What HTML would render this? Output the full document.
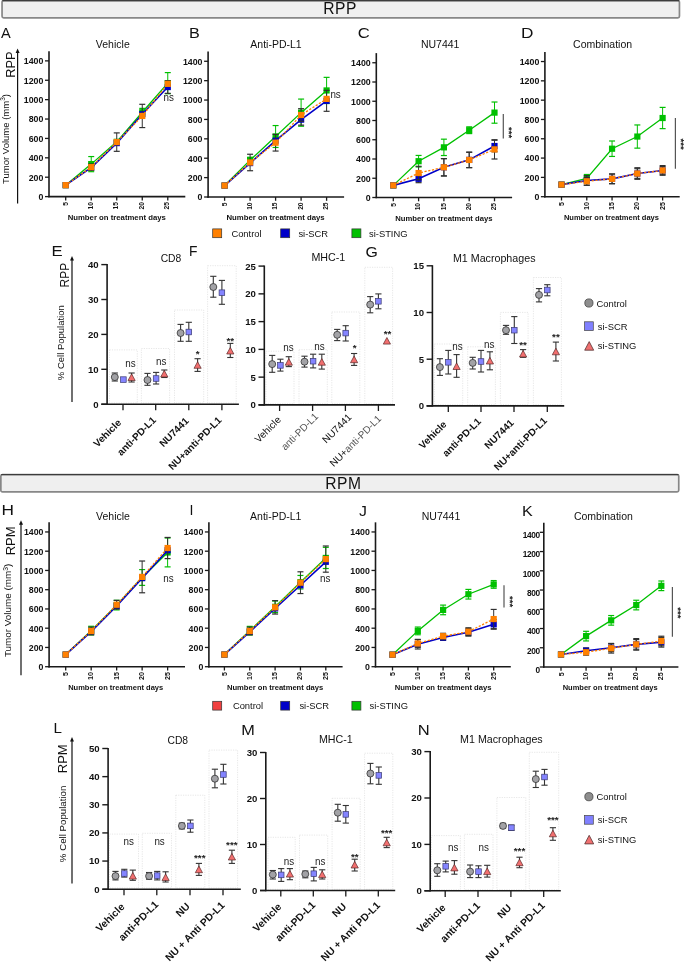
<!DOCTYPE html><html><head><meta charset="utf-8"><title>Figure</title><style>html,body{margin:0;padding:0;background:#fff;}svg{display:block;will-change:transform;}text{font-family:"Liberation Sans",sans-serif;}</style></head><body>
<svg width="685" height="963" viewBox="0 0 685 963">
<rect width="685" height="963" fill="#fff"/>
<rect x="2.05" y="0.6" width="677.4" height="17.25" rx="1.6" fill="#efefef" stroke="#878787" stroke-width="1.7"/>
<line x1="2.4" y1="0.6" x2="679.1" y2="0.6" stroke="#3c3c3c" stroke-width="1.25"/>
<text x="323.2" y="14.4" font-size="15.6" text-anchor="start" fill="#111" letter-spacing="0.55">RPP</text>
<rect x="0.85" y="474.5" width="677.9" height="17.45" rx="1.6" fill="#efefef" stroke="#878787" stroke-width="1.7"/>
<line x1="1.2" y1="474.5" x2="678.4" y2="474.5" stroke="#3c3c3c" stroke-width="1.25"/>
<text x="325.2" y="488.6" font-size="15.6" text-anchor="start" fill="#111" letter-spacing="0.55">RPM</text>
<text x="1" y="37.7" font-size="14.6" text-anchor="start" fill="#111">A</text>
<text x="0" y="0" font-size="14.2" fill="#111" transform="translate(188.9 37.9) scale(1.14 1)">B</text>
<text x="0" y="0" font-size="14.6" fill="#111" transform="translate(357.8 38.4) scale(1.14 1)">C</text>
<text x="0" y="0" font-size="14.6" fill="#111" transform="translate(521 38.4) scale(1.18 1)">D</text>
<line x1="17.6" y1="51.4" x2="17.6" y2="203.4" stroke="#111" stroke-width="1.2"/>
<polygon points="15.6,52.9 17.6,48.4 19.6,52.9" fill="#111"/>
<text x="15.1" y="64.65" font-size="12.8" text-anchor="middle" fill="#111" transform="rotate(-90 15.1 64.65)">RPP</text>
<text x="8.9" y="139" font-size="9.5" text-anchor="middle" fill="#111" transform="rotate(-90 8.9 139)">Tumor Volume (mm<tspan font-size="6.46" dy="-3.4">3</tspan><tspan dy="3.4">)</tspan></text>
<line x1="49" y1="51.17" x2="49" y2="197.3" stroke="#1a1a1a" stroke-width="1.6"/>
<line x1="45" y1="196.6" x2="49" y2="196.6" stroke="#1a1a1a" stroke-width="1.3"/>
<text x="43.4" y="200" font-size="8.8" font-weight="bold" text-anchor="end" fill="#111">0</text>
<line x1="45" y1="177.21" x2="49" y2="177.21" stroke="#1a1a1a" stroke-width="1.3"/>
<text x="43.4" y="180.61" font-size="8.8" font-weight="bold" text-anchor="end" fill="#111">200</text>
<line x1="45" y1="157.82" x2="49" y2="157.82" stroke="#1a1a1a" stroke-width="1.3"/>
<text x="43.4" y="161.22" font-size="8.8" font-weight="bold" text-anchor="end" fill="#111">400</text>
<line x1="45" y1="138.43" x2="49" y2="138.43" stroke="#1a1a1a" stroke-width="1.3"/>
<text x="43.4" y="141.83" font-size="8.8" font-weight="bold" text-anchor="end" fill="#111">600</text>
<line x1="45" y1="119.04" x2="49" y2="119.04" stroke="#1a1a1a" stroke-width="1.3"/>
<text x="43.4" y="122.44" font-size="8.8" font-weight="bold" text-anchor="end" fill="#111">800</text>
<line x1="45" y1="99.65" x2="49" y2="99.65" stroke="#1a1a1a" stroke-width="1.3"/>
<text x="43.4" y="103.05" font-size="8.8" font-weight="bold" text-anchor="end" fill="#111">1000</text>
<line x1="45" y1="80.26" x2="49" y2="80.26" stroke="#1a1a1a" stroke-width="1.3"/>
<text x="43.4" y="83.66" font-size="8.8" font-weight="bold" text-anchor="end" fill="#111">1200</text>
<line x1="45" y1="60.87" x2="49" y2="60.87" stroke="#1a1a1a" stroke-width="1.3"/>
<text x="43.4" y="64.27" font-size="8.8" font-weight="bold" text-anchor="end" fill="#111">1400</text>
<line x1="48.3" y1="196.6" x2="185.3" y2="196.6" stroke="#1a1a1a" stroke-width="1.6"/>
<line x1="65.7" y1="196.6" x2="65.7" y2="200.4" stroke="#1a1a1a" stroke-width="1.3"/>
<text x="68.11" y="202" font-size="6.7" font-weight="bold" text-anchor="end" fill="#111" transform="rotate(-90 68.11 202)">5</text>
<line x1="91.22" y1="196.6" x2="91.22" y2="200.4" stroke="#1a1a1a" stroke-width="1.3"/>
<text x="92.93" y="202" font-size="6.7" font-weight="bold" text-anchor="end" fill="#111" transform="rotate(-90 92.93 202)">10</text>
<line x1="116.74" y1="196.6" x2="116.74" y2="200.4" stroke="#1a1a1a" stroke-width="1.3"/>
<text x="118.45" y="202" font-size="6.7" font-weight="bold" text-anchor="end" fill="#111" transform="rotate(-90 118.45 202)">15</text>
<line x1="142.26" y1="196.6" x2="142.26" y2="200.4" stroke="#1a1a1a" stroke-width="1.3"/>
<text x="143.97" y="202" font-size="6.7" font-weight="bold" text-anchor="end" fill="#111" transform="rotate(-90 143.97 202)">20</text>
<line x1="167.78" y1="196.6" x2="167.78" y2="200.4" stroke="#1a1a1a" stroke-width="1.3"/>
<text x="169.49" y="202" font-size="6.7" font-weight="bold" text-anchor="end" fill="#111" transform="rotate(-90 169.49 202)">25</text>
<text x="116.74" y="219.9" font-size="7.75" font-weight="bold" text-anchor="middle" fill="#111">Number on treatment days</text>
<text x="112.8" y="48" font-size="10.5" text-anchor="middle" fill="#111">Vehicle</text>
<line x1="91.22" y1="156.56" x2="91.22" y2="171.68" stroke="#00c000" stroke-width="1"/>
<line x1="88.22" y1="156.56" x2="94.22" y2="156.56" stroke="#00c000" stroke-width="1.2"/>
<line x1="88.22" y1="171.68" x2="94.22" y2="171.68" stroke="#00c000" stroke-width="1.2"/>
<line x1="142.26" y1="108.38" x2="142.26" y2="116.13" stroke="#00c000" stroke-width="1"/>
<line x1="139.26" y1="108.38" x2="145.26" y2="108.38" stroke="#00c000" stroke-width="1.2"/>
<line x1="139.26" y1="116.13" x2="145.26" y2="116.13" stroke="#00c000" stroke-width="1.2"/>
<line x1="167.78" y1="72.6" x2="167.78" y2="93.74" stroke="#00c000" stroke-width="1"/>
<line x1="164.78" y1="72.6" x2="170.78" y2="72.6" stroke="#00c000" stroke-width="1.2"/>
<line x1="164.78" y1="93.74" x2="170.78" y2="93.74" stroke="#00c000" stroke-width="1.2"/>
<polyline points="65.7,185.16 91.22,164.12 116.74,141.82 142.26,112.25 167.78,83.17" fill="none" stroke="#00c000" stroke-width="1.3"/>
<rect x="62.6" y="182.06" width="6.2" height="6.2" fill="#00c000"/>
<rect x="88.12" y="161.02" width="6.2" height="6.2" fill="#00c000"/>
<rect x="113.64" y="138.72" width="6.2" height="6.2" fill="#00c000"/>
<rect x="139.16" y="109.15" width="6.2" height="6.2" fill="#00c000"/>
<rect x="164.68" y="80.07" width="6.2" height="6.2" fill="#00c000"/>
<line x1="167.78" y1="80.74" x2="167.78" y2="93.35" stroke="#303030" stroke-width="1"/>
<line x1="164.78" y1="80.74" x2="170.78" y2="80.74" stroke="#303030" stroke-width="1.2"/>
<line x1="164.78" y1="93.35" x2="170.78" y2="93.35" stroke="#303030" stroke-width="1.2"/>
<polyline points="65.7,185.16 91.22,167.51 116.74,143.08 142.26,114.19 167.78,87.05" fill="none" stroke="#0000c8" stroke-width="1.6"/>
<rect x="62.6" y="182.06" width="6.2" height="6.2" fill="#0000c8"/>
<rect x="88.12" y="164.41" width="6.2" height="6.2" fill="#0000c8"/>
<rect x="113.64" y="139.98" width="6.2" height="6.2" fill="#0000c8"/>
<rect x="139.16" y="111.09" width="6.2" height="6.2" fill="#0000c8"/>
<rect x="164.68" y="83.95" width="6.2" height="6.2" fill="#0000c8"/>
<line x1="91.22" y1="164.02" x2="91.22" y2="170.23" stroke="#303030" stroke-width="1"/>
<line x1="88.22" y1="164.02" x2="94.22" y2="164.02" stroke="#303030" stroke-width="1.2"/>
<line x1="88.22" y1="170.23" x2="94.22" y2="170.23" stroke="#303030" stroke-width="1.2"/>
<line x1="116.74" y1="132.9" x2="116.74" y2="151.32" stroke="#303030" stroke-width="1"/>
<line x1="113.74" y1="132.9" x2="119.74" y2="132.9" stroke="#303030" stroke-width="1.2"/>
<line x1="113.74" y1="151.32" x2="119.74" y2="151.32" stroke="#303030" stroke-width="1.2"/>
<line x1="142.26" y1="104.3" x2="142.26" y2="127.57" stroke="#303030" stroke-width="1"/>
<line x1="139.26" y1="104.3" x2="145.26" y2="104.3" stroke="#303030" stroke-width="1.2"/>
<line x1="139.26" y1="127.57" x2="145.26" y2="127.57" stroke="#303030" stroke-width="1.2"/>
<polyline points="65.7,185.16 91.22,167.13 116.74,142.11 142.26,115.94 167.78,83.85" fill="none" stroke="#ff8000" stroke-width="1.3" stroke-dasharray="2.2,1.6"/>
<rect x="62.6" y="182.06" width="6.2" height="6.2" fill="#ff8000"/>
<rect x="88.12" y="164.03" width="6.2" height="6.2" fill="#ff8000"/>
<rect x="113.64" y="139.01" width="6.2" height="6.2" fill="#ff8000"/>
<rect x="139.16" y="112.84" width="6.2" height="6.2" fill="#ff8000"/>
<rect x="164.68" y="80.75" width="6.2" height="6.2" fill="#ff8000"/>
<text x="163.6" y="101.4" font-size="11.6" text-anchor="start" fill="#222" textLength="10.4" lengthAdjust="spacingAndGlyphs">ns</text>
<line x1="208.1" y1="51.57" x2="208.1" y2="197.7" stroke="#1a1a1a" stroke-width="1.6"/>
<line x1="204.1" y1="197" x2="208.1" y2="197" stroke="#1a1a1a" stroke-width="1.3"/>
<text x="202.5" y="200.4" font-size="8.8" font-weight="bold" text-anchor="end" fill="#111">0</text>
<line x1="204.1" y1="177.61" x2="208.1" y2="177.61" stroke="#1a1a1a" stroke-width="1.3"/>
<text x="202.5" y="181.01" font-size="8.8" font-weight="bold" text-anchor="end" fill="#111">200</text>
<line x1="204.1" y1="158.22" x2="208.1" y2="158.22" stroke="#1a1a1a" stroke-width="1.3"/>
<text x="202.5" y="161.62" font-size="8.8" font-weight="bold" text-anchor="end" fill="#111">400</text>
<line x1="204.1" y1="138.83" x2="208.1" y2="138.83" stroke="#1a1a1a" stroke-width="1.3"/>
<text x="202.5" y="142.23" font-size="8.8" font-weight="bold" text-anchor="end" fill="#111">600</text>
<line x1="204.1" y1="119.44" x2="208.1" y2="119.44" stroke="#1a1a1a" stroke-width="1.3"/>
<text x="202.5" y="122.84" font-size="8.8" font-weight="bold" text-anchor="end" fill="#111">800</text>
<line x1="204.1" y1="100.05" x2="208.1" y2="100.05" stroke="#1a1a1a" stroke-width="1.3"/>
<text x="202.5" y="103.45" font-size="8.8" font-weight="bold" text-anchor="end" fill="#111">1000</text>
<line x1="204.1" y1="80.66" x2="208.1" y2="80.66" stroke="#1a1a1a" stroke-width="1.3"/>
<text x="202.5" y="84.06" font-size="8.8" font-weight="bold" text-anchor="end" fill="#111">1200</text>
<line x1="204.1" y1="61.27" x2="208.1" y2="61.27" stroke="#1a1a1a" stroke-width="1.3"/>
<text x="202.5" y="64.67" font-size="8.8" font-weight="bold" text-anchor="end" fill="#111">1400</text>
<line x1="207.4" y1="197" x2="344.1" y2="197" stroke="#1a1a1a" stroke-width="1.6"/>
<line x1="224.6" y1="197" x2="224.6" y2="200.8" stroke="#1a1a1a" stroke-width="1.3"/>
<text x="227.01" y="202.4" font-size="6.7" font-weight="bold" text-anchor="end" fill="#111" transform="rotate(-90 227.01 202.4)">5</text>
<line x1="250.1" y1="197" x2="250.1" y2="200.8" stroke="#1a1a1a" stroke-width="1.3"/>
<text x="251.81" y="202.4" font-size="6.7" font-weight="bold" text-anchor="end" fill="#111" transform="rotate(-90 251.81 202.4)">10</text>
<line x1="275.6" y1="197" x2="275.6" y2="200.8" stroke="#1a1a1a" stroke-width="1.3"/>
<text x="277.31" y="202.4" font-size="6.7" font-weight="bold" text-anchor="end" fill="#111" transform="rotate(-90 277.31 202.4)">15</text>
<line x1="301.1" y1="197" x2="301.1" y2="200.8" stroke="#1a1a1a" stroke-width="1.3"/>
<text x="302.81" y="202.4" font-size="6.7" font-weight="bold" text-anchor="end" fill="#111" transform="rotate(-90 302.81 202.4)">20</text>
<line x1="326.6" y1="197" x2="326.6" y2="200.8" stroke="#1a1a1a" stroke-width="1.3"/>
<text x="328.31" y="202.4" font-size="6.7" font-weight="bold" text-anchor="end" fill="#111" transform="rotate(-90 328.31 202.4)">25</text>
<text x="275.6" y="220.3" font-size="7.75" font-weight="bold" text-anchor="middle" fill="#111">Number on treatment days</text>
<text x="276" y="47.9" font-size="10.5" text-anchor="middle" fill="#111">Anti-PD-L1</text>
<line x1="250.1" y1="157.25" x2="250.1" y2="163.07" stroke="#00c000" stroke-width="1"/>
<line x1="247.1" y1="157.25" x2="253.1" y2="157.25" stroke="#00c000" stroke-width="1.2"/>
<line x1="247.1" y1="163.07" x2="253.1" y2="163.07" stroke="#00c000" stroke-width="1.2"/>
<line x1="275.6" y1="125.55" x2="275.6" y2="147.46" stroke="#00c000" stroke-width="1"/>
<line x1="272.6" y1="125.55" x2="278.6" y2="125.55" stroke="#00c000" stroke-width="1.2"/>
<line x1="272.6" y1="147.46" x2="278.6" y2="147.46" stroke="#00c000" stroke-width="1.2"/>
<line x1="301.1" y1="99.08" x2="301.1" y2="126.23" stroke="#00c000" stroke-width="1"/>
<line x1="298.1" y1="99.08" x2="304.1" y2="99.08" stroke="#00c000" stroke-width="1.2"/>
<line x1="298.1" y1="126.23" x2="304.1" y2="126.23" stroke="#00c000" stroke-width="1.2"/>
<line x1="326.6" y1="77.36" x2="326.6" y2="103.54" stroke="#00c000" stroke-width="1"/>
<line x1="323.6" y1="77.36" x2="329.6" y2="77.36" stroke="#00c000" stroke-width="1.2"/>
<line x1="323.6" y1="103.54" x2="329.6" y2="103.54" stroke="#00c000" stroke-width="1.2"/>
<polyline points="224.6,185.56 250.1,160.16 275.6,136.5 301.1,112.65 326.6,90.45" fill="none" stroke="#00c000" stroke-width="1.3"/>
<rect x="221.5" y="182.46" width="6.2" height="6.2" fill="#00c000"/>
<rect x="247" y="157.06" width="6.2" height="6.2" fill="#00c000"/>
<rect x="272.5" y="133.4" width="6.2" height="6.2" fill="#00c000"/>
<rect x="298" y="109.55" width="6.2" height="6.2" fill="#00c000"/>
<rect x="323.5" y="87.35" width="6.2" height="6.2" fill="#00c000"/>
<line x1="301.1" y1="114.11" x2="301.1" y2="125.16" stroke="#303030" stroke-width="1"/>
<line x1="298.1" y1="114.11" x2="304.1" y2="114.11" stroke="#303030" stroke-width="1.2"/>
<line x1="298.1" y1="125.16" x2="304.1" y2="125.16" stroke="#303030" stroke-width="1.2"/>
<line x1="326.6" y1="90.35" x2="326.6" y2="111.3" stroke="#303030" stroke-width="1"/>
<line x1="323.6" y1="90.35" x2="329.6" y2="90.35" stroke="#303030" stroke-width="1.2"/>
<line x1="323.6" y1="111.3" x2="329.6" y2="111.3" stroke="#303030" stroke-width="1.2"/>
<polyline points="224.6,185.56 250.1,163.07 275.6,140.67 301.1,119.63 326.6,100.83" fill="none" stroke="#0000c8" stroke-width="1.6"/>
<rect x="221.5" y="182.46" width="6.2" height="6.2" fill="#0000c8"/>
<rect x="247" y="159.97" width="6.2" height="6.2" fill="#0000c8"/>
<rect x="272.5" y="137.57" width="6.2" height="6.2" fill="#0000c8"/>
<rect x="298" y="116.53" width="6.2" height="6.2" fill="#0000c8"/>
<rect x="323.5" y="97.73" width="6.2" height="6.2" fill="#0000c8"/>
<line x1="250.1" y1="154.25" x2="250.1" y2="170.73" stroke="#303030" stroke-width="1"/>
<line x1="247.1" y1="154.25" x2="253.1" y2="154.25" stroke="#303030" stroke-width="1.2"/>
<line x1="247.1" y1="170.73" x2="253.1" y2="170.73" stroke="#303030" stroke-width="1.2"/>
<line x1="275.6" y1="134.37" x2="275.6" y2="151.05" stroke="#303030" stroke-width="1"/>
<line x1="272.6" y1="134.37" x2="278.6" y2="134.37" stroke="#303030" stroke-width="1.2"/>
<line x1="272.6" y1="151.05" x2="278.6" y2="151.05" stroke="#303030" stroke-width="1.2"/>
<line x1="301.1" y1="108.68" x2="301.1" y2="121.28" stroke="#303030" stroke-width="1"/>
<line x1="298.1" y1="108.68" x2="304.1" y2="108.68" stroke="#303030" stroke-width="1.2"/>
<line x1="298.1" y1="121.28" x2="304.1" y2="121.28" stroke="#303030" stroke-width="1.2"/>
<polyline points="224.6,185.56 250.1,162.49 275.6,142.71 301.1,114.98 326.6,98.89" fill="none" stroke="#ff8000" stroke-width="1.3" stroke-dasharray="2.2,1.6"/>
<rect x="221.5" y="182.46" width="6.2" height="6.2" fill="#ff8000"/>
<rect x="247" y="159.39" width="6.2" height="6.2" fill="#ff8000"/>
<rect x="272.5" y="139.61" width="6.2" height="6.2" fill="#ff8000"/>
<rect x="298" y="111.88" width="6.2" height="6.2" fill="#ff8000"/>
<rect x="323.5" y="95.79" width="6.2" height="6.2" fill="#ff8000"/>
<text x="330.4" y="98" font-size="11.6" text-anchor="start" fill="#222" textLength="10.4" lengthAdjust="spacingAndGlyphs">ns</text>
<line x1="376.3" y1="53.12" x2="376.3" y2="198.2" stroke="#1a1a1a" stroke-width="1.6"/>
<line x1="372.3" y1="197.5" x2="376.3" y2="197.5" stroke="#1a1a1a" stroke-width="1.3"/>
<text x="370.7" y="200.9" font-size="8.8" font-weight="bold" text-anchor="end" fill="#111">0</text>
<line x1="372.3" y1="178.25" x2="376.3" y2="178.25" stroke="#1a1a1a" stroke-width="1.3"/>
<text x="370.7" y="181.65" font-size="8.8" font-weight="bold" text-anchor="end" fill="#111">200</text>
<line x1="372.3" y1="159" x2="376.3" y2="159" stroke="#1a1a1a" stroke-width="1.3"/>
<text x="370.7" y="162.4" font-size="8.8" font-weight="bold" text-anchor="end" fill="#111">400</text>
<line x1="372.3" y1="139.75" x2="376.3" y2="139.75" stroke="#1a1a1a" stroke-width="1.3"/>
<text x="370.7" y="143.15" font-size="8.8" font-weight="bold" text-anchor="end" fill="#111">600</text>
<line x1="372.3" y1="120.5" x2="376.3" y2="120.5" stroke="#1a1a1a" stroke-width="1.3"/>
<text x="370.7" y="123.9" font-size="8.8" font-weight="bold" text-anchor="end" fill="#111">800</text>
<line x1="372.3" y1="101.25" x2="376.3" y2="101.25" stroke="#1a1a1a" stroke-width="1.3"/>
<text x="370.7" y="104.65" font-size="8.8" font-weight="bold" text-anchor="end" fill="#111">1000</text>
<line x1="372.3" y1="82" x2="376.3" y2="82" stroke="#1a1a1a" stroke-width="1.3"/>
<text x="370.7" y="85.4" font-size="8.8" font-weight="bold" text-anchor="end" fill="#111">1200</text>
<line x1="372.3" y1="62.75" x2="376.3" y2="62.75" stroke="#1a1a1a" stroke-width="1.3"/>
<text x="370.7" y="66.15" font-size="8.8" font-weight="bold" text-anchor="end" fill="#111">1400</text>
<line x1="375.6" y1="197.5" x2="512.1" y2="197.5" stroke="#1a1a1a" stroke-width="1.6"/>
<line x1="393.3" y1="197.5" x2="393.3" y2="201.3" stroke="#1a1a1a" stroke-width="1.3"/>
<text x="395.71" y="202.9" font-size="6.7" font-weight="bold" text-anchor="end" fill="#111" transform="rotate(-90 395.71 202.9)">5</text>
<line x1="418.6" y1="197.5" x2="418.6" y2="201.3" stroke="#1a1a1a" stroke-width="1.3"/>
<text x="420.31" y="202.9" font-size="6.7" font-weight="bold" text-anchor="end" fill="#111" transform="rotate(-90 420.31 202.9)">10</text>
<line x1="443.9" y1="197.5" x2="443.9" y2="201.3" stroke="#1a1a1a" stroke-width="1.3"/>
<text x="445.61" y="202.9" font-size="6.7" font-weight="bold" text-anchor="end" fill="#111" transform="rotate(-90 445.61 202.9)">15</text>
<line x1="469.2" y1="197.5" x2="469.2" y2="201.3" stroke="#1a1a1a" stroke-width="1.3"/>
<text x="470.91" y="202.9" font-size="6.7" font-weight="bold" text-anchor="end" fill="#111" transform="rotate(-90 470.91 202.9)">20</text>
<line x1="494.5" y1="197.5" x2="494.5" y2="201.3" stroke="#1a1a1a" stroke-width="1.3"/>
<text x="496.21" y="202.9" font-size="6.7" font-weight="bold" text-anchor="end" fill="#111" transform="rotate(-90 496.21 202.9)">25</text>
<text x="443.9" y="220.8" font-size="7.68" font-weight="bold" text-anchor="middle" fill="#111">Number on treatment days</text>
<text x="440.2" y="48" font-size="10.5" text-anchor="middle" fill="#111">NU7441</text>
<line x1="418.6" y1="155.44" x2="418.6" y2="166.99" stroke="#00c000" stroke-width="1"/>
<line x1="415.6" y1="155.44" x2="421.6" y2="155.44" stroke="#00c000" stroke-width="1.2"/>
<line x1="415.6" y1="166.99" x2="421.6" y2="166.99" stroke="#00c000" stroke-width="1.2"/>
<line x1="443.9" y1="139.17" x2="443.9" y2="155.53" stroke="#00c000" stroke-width="1"/>
<line x1="440.9" y1="139.17" x2="446.9" y2="139.17" stroke="#00c000" stroke-width="1.2"/>
<line x1="440.9" y1="155.53" x2="446.9" y2="155.53" stroke="#00c000" stroke-width="1.2"/>
<line x1="469.2" y1="126.85" x2="469.2" y2="133.59" stroke="#00c000" stroke-width="1"/>
<line x1="466.2" y1="126.85" x2="472.2" y2="126.85" stroke="#00c000" stroke-width="1.2"/>
<line x1="466.2" y1="133.59" x2="472.2" y2="133.59" stroke="#00c000" stroke-width="1.2"/>
<line x1="494.5" y1="102.02" x2="494.5" y2="123.2" stroke="#00c000" stroke-width="1"/>
<line x1="491.5" y1="102.02" x2="497.5" y2="102.02" stroke="#00c000" stroke-width="1.2"/>
<line x1="491.5" y1="123.2" x2="497.5" y2="123.2" stroke="#00c000" stroke-width="1.2"/>
<polyline points="393.3,185.37 418.6,161.21 443.9,147.35 469.2,130.22 494.5,112.61" fill="none" stroke="#00c000" stroke-width="1.3"/>
<rect x="390.2" y="182.27" width="6.2" height="6.2" fill="#00c000"/>
<rect x="415.5" y="158.11" width="6.2" height="6.2" fill="#00c000"/>
<rect x="440.8" y="144.25" width="6.2" height="6.2" fill="#00c000"/>
<rect x="466.1" y="127.12" width="6.2" height="6.2" fill="#00c000"/>
<rect x="491.4" y="109.51" width="6.2" height="6.2" fill="#00c000"/>
<line x1="418.6" y1="174.98" x2="418.6" y2="182.68" stroke="#303030" stroke-width="1"/>
<line x1="415.6" y1="174.98" x2="421.6" y2="174.98" stroke="#303030" stroke-width="1.2"/>
<line x1="415.6" y1="182.68" x2="421.6" y2="182.68" stroke="#303030" stroke-width="1.2"/>
<line x1="443.9" y1="158.62" x2="443.9" y2="175.94" stroke="#303030" stroke-width="1"/>
<line x1="440.9" y1="158.62" x2="446.9" y2="158.62" stroke="#303030" stroke-width="1.2"/>
<line x1="440.9" y1="175.94" x2="446.9" y2="175.94" stroke="#303030" stroke-width="1.2"/>
<line x1="469.2" y1="152.17" x2="469.2" y2="167.57" stroke="#303030" stroke-width="1"/>
<line x1="466.2" y1="152.17" x2="472.2" y2="152.17" stroke="#303030" stroke-width="1.2"/>
<line x1="466.2" y1="167.57" x2="472.2" y2="167.57" stroke="#303030" stroke-width="1.2"/>
<line x1="494.5" y1="140.23" x2="494.5" y2="151.78" stroke="#303030" stroke-width="1"/>
<line x1="491.5" y1="140.23" x2="497.5" y2="140.23" stroke="#303030" stroke-width="1.2"/>
<line x1="491.5" y1="151.78" x2="497.5" y2="151.78" stroke="#303030" stroke-width="1.2"/>
<polyline points="393.3,185.37 418.6,178.83 443.9,167.28 469.2,159.87 494.5,146.01" fill="none" stroke="#0000c8" stroke-width="1.6"/>
<rect x="390.2" y="182.27" width="6.2" height="6.2" fill="#0000c8"/>
<rect x="415.5" y="175.73" width="6.2" height="6.2" fill="#0000c8"/>
<rect x="440.8" y="164.18" width="6.2" height="6.2" fill="#0000c8"/>
<rect x="466.1" y="156.77" width="6.2" height="6.2" fill="#0000c8"/>
<rect x="491.4" y="142.91" width="6.2" height="6.2" fill="#0000c8"/>
<line x1="418.6" y1="166.31" x2="418.6" y2="179.79" stroke="#303030" stroke-width="1"/>
<line x1="415.6" y1="166.31" x2="421.6" y2="166.31" stroke="#303030" stroke-width="1.2"/>
<line x1="415.6" y1="179.79" x2="421.6" y2="179.79" stroke="#303030" stroke-width="1.2"/>
<line x1="443.9" y1="158.62" x2="443.9" y2="175.94" stroke="#303030" stroke-width="1"/>
<line x1="440.9" y1="158.62" x2="446.9" y2="158.62" stroke="#303030" stroke-width="1.2"/>
<line x1="440.9" y1="175.94" x2="446.9" y2="175.94" stroke="#303030" stroke-width="1.2"/>
<line x1="469.2" y1="152.26" x2="469.2" y2="167.66" stroke="#303030" stroke-width="1"/>
<line x1="466.2" y1="152.26" x2="472.2" y2="152.26" stroke="#303030" stroke-width="1.2"/>
<line x1="466.2" y1="167.66" x2="472.2" y2="167.66" stroke="#303030" stroke-width="1.2"/>
<line x1="494.5" y1="139.75" x2="494.5" y2="159" stroke="#303030" stroke-width="1"/>
<line x1="491.5" y1="139.75" x2="497.5" y2="139.75" stroke="#303030" stroke-width="1.2"/>
<line x1="491.5" y1="159" x2="497.5" y2="159" stroke="#303030" stroke-width="1.2"/>
<polyline points="393.3,185.37 418.6,173.05 443.9,167.28 469.2,159.96 494.5,149.38" fill="none" stroke="#ff8000" stroke-width="1.3" stroke-dasharray="2.2,1.6"/>
<rect x="390.2" y="182.27" width="6.2" height="6.2" fill="#ff8000"/>
<rect x="415.5" y="169.95" width="6.2" height="6.2" fill="#ff8000"/>
<rect x="440.8" y="164.18" width="6.2" height="6.2" fill="#ff8000"/>
<rect x="466.1" y="156.86" width="6.2" height="6.2" fill="#ff8000"/>
<rect x="491.4" y="146.28" width="6.2" height="6.2" fill="#ff8000"/>
<line x1="503.3" y1="113.9" x2="503.3" y2="138.6" stroke="#555" stroke-width="1.2"/>
<text x="505.7" y="132.7" font-size="9.6" font-weight="bold" text-anchor="middle" fill="#222" transform="rotate(90 505.7 132.7)">***</text>
<line x1="544.9" y1="51.88" x2="544.9" y2="197.4" stroke="#1a1a1a" stroke-width="1.6"/>
<line x1="540.9" y1="196.7" x2="544.9" y2="196.7" stroke="#1a1a1a" stroke-width="1.3"/>
<text x="539.3" y="200.1" font-size="8.8" font-weight="bold" text-anchor="end" fill="#111">0</text>
<line x1="540.9" y1="177.39" x2="544.9" y2="177.39" stroke="#1a1a1a" stroke-width="1.3"/>
<text x="539.3" y="180.79" font-size="8.8" font-weight="bold" text-anchor="end" fill="#111">200</text>
<line x1="540.9" y1="158.08" x2="544.9" y2="158.08" stroke="#1a1a1a" stroke-width="1.3"/>
<text x="539.3" y="161.48" font-size="8.8" font-weight="bold" text-anchor="end" fill="#111">400</text>
<line x1="540.9" y1="138.77" x2="544.9" y2="138.77" stroke="#1a1a1a" stroke-width="1.3"/>
<text x="539.3" y="142.17" font-size="8.8" font-weight="bold" text-anchor="end" fill="#111">600</text>
<line x1="540.9" y1="119.46" x2="544.9" y2="119.46" stroke="#1a1a1a" stroke-width="1.3"/>
<text x="539.3" y="122.86" font-size="8.8" font-weight="bold" text-anchor="end" fill="#111">800</text>
<line x1="540.9" y1="100.15" x2="544.9" y2="100.15" stroke="#1a1a1a" stroke-width="1.3"/>
<text x="539.3" y="103.55" font-size="8.8" font-weight="bold" text-anchor="end" fill="#111">1000</text>
<line x1="540.9" y1="80.84" x2="544.9" y2="80.84" stroke="#1a1a1a" stroke-width="1.3"/>
<text x="539.3" y="84.24" font-size="8.8" font-weight="bold" text-anchor="end" fill="#111">1200</text>
<line x1="540.9" y1="61.53" x2="544.9" y2="61.53" stroke="#1a1a1a" stroke-width="1.3"/>
<text x="539.3" y="64.93" font-size="8.8" font-weight="bold" text-anchor="end" fill="#111">1400</text>
<line x1="544.2" y1="196.7" x2="679.7" y2="196.7" stroke="#1a1a1a" stroke-width="1.6"/>
<line x1="561.5" y1="196.7" x2="561.5" y2="200.5" stroke="#1a1a1a" stroke-width="1.3"/>
<text x="564.09" y="202.1" font-size="7.2" font-weight="bold" text-anchor="end" fill="#111" transform="rotate(-90 564.09 202.1)">5</text>
<line x1="586.78" y1="196.7" x2="586.78" y2="200.5" stroke="#1a1a1a" stroke-width="1.3"/>
<text x="588.67" y="202.1" font-size="7.2" font-weight="bold" text-anchor="end" fill="#111" transform="rotate(-90 588.67 202.1)">10</text>
<line x1="612.06" y1="196.7" x2="612.06" y2="200.5" stroke="#1a1a1a" stroke-width="1.3"/>
<text x="613.95" y="202.1" font-size="7.2" font-weight="bold" text-anchor="end" fill="#111" transform="rotate(-90 613.95 202.1)">15</text>
<line x1="637.34" y1="196.7" x2="637.34" y2="200.5" stroke="#1a1a1a" stroke-width="1.3"/>
<text x="639.23" y="202.1" font-size="7.2" font-weight="bold" text-anchor="end" fill="#111" transform="rotate(-90 639.23 202.1)">20</text>
<line x1="662.62" y1="196.7" x2="662.62" y2="200.5" stroke="#1a1a1a" stroke-width="1.3"/>
<text x="664.51" y="202.1" font-size="7.2" font-weight="bold" text-anchor="end" fill="#111" transform="rotate(-90 664.51 202.1)">25</text>
<text x="611.46" y="220" font-size="7.5" font-weight="bold" text-anchor="middle" fill="#111">Number on treatment days</text>
<text x="602.6" y="48" font-size="10.5" text-anchor="middle" fill="#111">Combination</text>
<line x1="586.78" y1="174.49" x2="586.78" y2="182.22" stroke="#00c000" stroke-width="1"/>
<line x1="583.78" y1="174.49" x2="589.78" y2="174.49" stroke="#00c000" stroke-width="1.2"/>
<line x1="583.78" y1="182.22" x2="589.78" y2="182.22" stroke="#00c000" stroke-width="1.2"/>
<line x1="612.06" y1="140.99" x2="612.06" y2="156.44" stroke="#00c000" stroke-width="1"/>
<line x1="609.06" y1="140.99" x2="615.06" y2="140.99" stroke="#00c000" stroke-width="1.2"/>
<line x1="609.06" y1="156.44" x2="615.06" y2="156.44" stroke="#00c000" stroke-width="1.2"/>
<line x1="637.34" y1="124.96" x2="637.34" y2="148.14" stroke="#00c000" stroke-width="1"/>
<line x1="634.34" y1="124.96" x2="640.34" y2="124.96" stroke="#00c000" stroke-width="1.2"/>
<line x1="634.34" y1="148.14" x2="640.34" y2="148.14" stroke="#00c000" stroke-width="1.2"/>
<line x1="662.62" y1="107.39" x2="662.62" y2="128.63" stroke="#00c000" stroke-width="1"/>
<line x1="659.62" y1="107.39" x2="665.62" y2="107.39" stroke="#00c000" stroke-width="1.2"/>
<line x1="659.62" y1="128.63" x2="665.62" y2="128.63" stroke="#00c000" stroke-width="1.2"/>
<polyline points="561.5,184.63 586.78,178.36 612.06,148.71 637.34,136.55 662.62,118.01" fill="none" stroke="#00c000" stroke-width="1.3"/>
<rect x="558.4" y="181.53" width="6.2" height="6.2" fill="#00c000"/>
<rect x="583.68" y="175.26" width="6.2" height="6.2" fill="#00c000"/>
<rect x="608.96" y="145.61" width="6.2" height="6.2" fill="#00c000"/>
<rect x="634.24" y="133.45" width="6.2" height="6.2" fill="#00c000"/>
<rect x="659.52" y="114.91" width="6.2" height="6.2" fill="#00c000"/>
<line x1="586.78" y1="175.65" x2="586.78" y2="185.31" stroke="#303030" stroke-width="1"/>
<line x1="583.78" y1="175.65" x2="589.78" y2="175.65" stroke="#303030" stroke-width="1.2"/>
<line x1="583.78" y1="185.31" x2="589.78" y2="185.31" stroke="#303030" stroke-width="1.2"/>
<line x1="612.06" y1="174.01" x2="612.06" y2="183.67" stroke="#303030" stroke-width="1"/>
<line x1="609.06" y1="174.01" x2="615.06" y2="174.01" stroke="#303030" stroke-width="1.2"/>
<line x1="609.06" y1="183.67" x2="615.06" y2="183.67" stroke="#303030" stroke-width="1.2"/>
<line x1="637.34" y1="167.73" x2="637.34" y2="179.32" stroke="#303030" stroke-width="1"/>
<line x1="634.34" y1="167.73" x2="640.34" y2="167.73" stroke="#303030" stroke-width="1.2"/>
<line x1="634.34" y1="179.32" x2="640.34" y2="179.32" stroke="#303030" stroke-width="1.2"/>
<line x1="662.62" y1="165.61" x2="662.62" y2="175.27" stroke="#303030" stroke-width="1"/>
<line x1="659.62" y1="165.61" x2="665.62" y2="165.61" stroke="#303030" stroke-width="1.2"/>
<line x1="659.62" y1="175.27" x2="665.62" y2="175.27" stroke="#303030" stroke-width="1.2"/>
<polyline points="561.5,184.63 586.78,180.48 612.06,178.84 637.34,173.53 662.62,170.44" fill="none" stroke="#0000c8" stroke-width="1.6"/>
<rect x="558.4" y="181.53" width="6.2" height="6.2" fill="#0000c8"/>
<rect x="583.68" y="177.38" width="6.2" height="6.2" fill="#0000c8"/>
<rect x="608.96" y="175.74" width="6.2" height="6.2" fill="#0000c8"/>
<rect x="634.24" y="170.43" width="6.2" height="6.2" fill="#0000c8"/>
<rect x="659.52" y="167.34" width="6.2" height="6.2" fill="#0000c8"/>
<line x1="586.78" y1="177.39" x2="586.78" y2="185.11" stroke="#303030" stroke-width="1"/>
<line x1="583.78" y1="177.39" x2="589.78" y2="177.39" stroke="#303030" stroke-width="1.2"/>
<line x1="583.78" y1="185.11" x2="589.78" y2="185.11" stroke="#303030" stroke-width="1.2"/>
<line x1="612.06" y1="174.01" x2="612.06" y2="183.67" stroke="#303030" stroke-width="1"/>
<line x1="609.06" y1="174.01" x2="615.06" y2="174.01" stroke="#303030" stroke-width="1.2"/>
<line x1="609.06" y1="183.67" x2="615.06" y2="183.67" stroke="#303030" stroke-width="1.2"/>
<line x1="637.34" y1="168.7" x2="637.34" y2="178.36" stroke="#303030" stroke-width="1"/>
<line x1="634.34" y1="168.7" x2="640.34" y2="168.7" stroke="#303030" stroke-width="1.2"/>
<line x1="634.34" y1="178.36" x2="640.34" y2="178.36" stroke="#303030" stroke-width="1.2"/>
<line x1="662.62" y1="166.58" x2="662.62" y2="174.3" stroke="#303030" stroke-width="1"/>
<line x1="659.62" y1="166.58" x2="665.62" y2="166.58" stroke="#303030" stroke-width="1.2"/>
<line x1="659.62" y1="174.3" x2="665.62" y2="174.3" stroke="#303030" stroke-width="1.2"/>
<polyline points="561.5,184.63 586.78,181.25 612.06,178.84 637.34,173.53 662.62,170.44" fill="none" stroke="#ff8000" stroke-width="1.3" stroke-dasharray="2.2,1.6"/>
<rect x="558.4" y="181.53" width="6.2" height="6.2" fill="#ff8000"/>
<rect x="583.68" y="178.15" width="6.2" height="6.2" fill="#ff8000"/>
<rect x="608.96" y="175.74" width="6.2" height="6.2" fill="#ff8000"/>
<rect x="634.24" y="170.43" width="6.2" height="6.2" fill="#ff8000"/>
<rect x="659.52" y="167.34" width="6.2" height="6.2" fill="#ff8000"/>
<line x1="675.4" y1="118.1" x2="675.4" y2="168.8" stroke="#555" stroke-width="1.2"/>
<text x="677.7" y="144.1" font-size="9.6" font-weight="bold" text-anchor="middle" fill="#222" transform="rotate(90 677.7 144.1)">***</text>
<rect x="212.7" y="228.9" width="9" height="8.8" fill="#ff8000" stroke="#333" stroke-width="0.7"/>
<text x="231.4" y="237" font-size="9.4" text-anchor="start" fill="#111">Control</text>
<rect x="280.7" y="228.9" width="9" height="8.8" fill="#0000c8" stroke="#333" stroke-width="0.7"/>
<text x="298.4" y="237" font-size="9.4" text-anchor="start" fill="#111">si-SCR</text>
<rect x="351.9" y="228.9" width="9" height="8.8" fill="#00c000" stroke="#333" stroke-width="0.7"/>
<text x="369" y="237" font-size="9.4" text-anchor="start" fill="#111">si-STING</text>
<text x="0" y="0" font-size="15.2" fill="#111" transform="translate(51.6 256) scale(1.1 1)">E</text>
<text x="189" y="256.4" font-size="13.8" text-anchor="start" fill="#111">F</text>
<text x="0" y="0" font-size="14.4" fill="#111" transform="translate(365.4 256.9) scale(1.1 1)">G</text>
<line x1="72" y1="259" x2="72" y2="402" stroke="#111" stroke-width="1.2"/>
<polygon points="70,260.5 72,256 74,260.5" fill="#111"/>
<text x="69.2" y="275.1" font-size="12" text-anchor="middle" fill="#111" transform="rotate(-90 69.2 275.1)">RPP</text>
<text x="64.4" y="342.7" font-size="9.5" text-anchor="middle" fill="#111" transform="rotate(-90 64.4 342.7)">% Cell Population</text>
<rect x="109.5" y="349.9" width="27.8" height="53.1" fill="none" stroke="#dcdcdc" stroke-width="0.7" stroke-dasharray="1.2,1.2"/>
<rect x="141.4" y="348.5" width="28.2" height="54.5" fill="none" stroke="#dcdcdc" stroke-width="0.7" stroke-dasharray="1.2,1.2"/>
<rect x="174.5" y="310" width="29.2" height="93" fill="none" stroke="#dcdcdc" stroke-width="0.7" stroke-dasharray="1.2,1.2"/>
<rect x="207.6" y="265.7" width="28.6" height="137.3" fill="none" stroke="#dcdcdc" stroke-width="0.7" stroke-dasharray="1.2,1.2"/>
<line x1="107.1" y1="264" x2="107.1" y2="404.9" stroke="#1a1a1a" stroke-width="1.6"/>
<line x1="101.3" y1="404.2" x2="107.1" y2="404.2" stroke="#1a1a1a" stroke-width="1.4"/>
<text x="98.7" y="407.6" font-size="9.6" font-weight="bold" text-anchor="end" fill="#111">0</text>
<line x1="101.3" y1="369.3" x2="107.1" y2="369.3" stroke="#1a1a1a" stroke-width="1.4"/>
<text x="98.7" y="372.7" font-size="9.6" font-weight="bold" text-anchor="end" fill="#111">10</text>
<line x1="101.3" y1="334.4" x2="107.1" y2="334.4" stroke="#1a1a1a" stroke-width="1.4"/>
<text x="98.7" y="337.8" font-size="9.6" font-weight="bold" text-anchor="end" fill="#111">20</text>
<line x1="101.3" y1="299.5" x2="107.1" y2="299.5" stroke="#1a1a1a" stroke-width="1.4"/>
<text x="98.7" y="302.9" font-size="9.6" font-weight="bold" text-anchor="end" fill="#111">30</text>
<line x1="101.3" y1="264.6" x2="107.1" y2="264.6" stroke="#1a1a1a" stroke-width="1.4"/>
<text x="98.7" y="268" font-size="9.6" font-weight="bold" text-anchor="end" fill="#111">40</text>
<line x1="101.3" y1="404.2" x2="238.9" y2="404.2" stroke="#1a1a1a" stroke-width="1.6"/>
<line x1="123" y1="404.2" x2="123" y2="410.3" stroke="#1a1a1a" stroke-width="1.3"/>
<line x1="155.7" y1="404.2" x2="155.7" y2="410.3" stroke="#1a1a1a" stroke-width="1.3"/>
<line x1="188.8" y1="404.2" x2="188.8" y2="410.3" stroke="#1a1a1a" stroke-width="1.3"/>
<line x1="221.9" y1="404.2" x2="221.9" y2="410.3" stroke="#1a1a1a" stroke-width="1.3"/>
<text x="121.9" y="423.3" font-size="10" font-weight="bold" text-anchor="end" fill="#111" transform="rotate(-45 121.9 423.3)">Vehicle</text>
<text x="156.6" y="420.8" font-size="10" font-weight="bold" text-anchor="end" fill="#111" transform="rotate(-45 156.6 420.8)">anti-PD-L1</text>
<text x="189.4" y="421.6" font-size="10" font-weight="bold" text-anchor="end" fill="#111" transform="rotate(-45 189.4 421.6)">NU7441</text>
<text x="222.2" y="420.7" font-size="10" font-weight="bold" text-anchor="end" fill="#111" transform="rotate(-45 222.2 420.7)">NU+anti-PD-L1</text>
<text x="171" y="261.9" font-size="10.3" text-anchor="middle" fill="#111">CD8</text>
<line x1="114.8" y1="373" x2="114.8" y2="381" stroke="#333" stroke-width="1.1"/>
<line x1="111.7" y1="373" x2="117.9" y2="373" stroke="#333" stroke-width="1.1"/>
<line x1="111.7" y1="381" x2="117.9" y2="381" stroke="#333" stroke-width="1.1"/>
<line x1="131.6" y1="373" x2="131.6" y2="382" stroke="#333" stroke-width="1.1"/>
<line x1="128.5" y1="373" x2="134.7" y2="373" stroke="#333" stroke-width="1.1"/>
<line x1="128.5" y1="382" x2="134.7" y2="382" stroke="#333" stroke-width="1.1"/>
<circle cx="114.8" cy="377.1" r="3.5" fill="#a2a2a6" stroke="#333" stroke-width="0.8"/>
<rect x="120.6" y="376.8" width="5.6" height="5.6" fill="#8484ff" stroke="#3a3a70" stroke-width="0.7"/>
<polygon points="128,380.5 131.6,373.9 135.2,380.5" fill="#f26f6f" stroke="#5a2a2a" stroke-width="0.7"/>
<text x="125.2" y="367.3" font-size="11.4" text-anchor="start" fill="#222" textLength="10.4" lengthAdjust="spacingAndGlyphs">ns</text>
<line x1="147.5" y1="373.4" x2="147.5" y2="385.3" stroke="#333" stroke-width="1.1"/>
<line x1="144.4" y1="373.4" x2="150.6" y2="373.4" stroke="#333" stroke-width="1.1"/>
<line x1="144.4" y1="385.3" x2="150.6" y2="385.3" stroke="#333" stroke-width="1.1"/>
<line x1="156.1" y1="372.4" x2="156.1" y2="384" stroke="#333" stroke-width="1.1"/>
<line x1="153" y1="372.4" x2="159.2" y2="372.4" stroke="#333" stroke-width="1.1"/>
<line x1="153" y1="384" x2="159.2" y2="384" stroke="#333" stroke-width="1.1"/>
<line x1="164.3" y1="370" x2="164.3" y2="377.5" stroke="#333" stroke-width="1.1"/>
<line x1="161.2" y1="370" x2="167.4" y2="370" stroke="#333" stroke-width="1.1"/>
<line x1="161.2" y1="377.5" x2="167.4" y2="377.5" stroke="#333" stroke-width="1.1"/>
<circle cx="147.5" cy="380" r="3.5" fill="#a2a2a6" stroke="#333" stroke-width="0.8"/>
<rect x="153.3" y="375.7" width="5.6" height="5.6" fill="#8484ff" stroke="#3a3a70" stroke-width="0.7"/>
<polygon points="160.7,377 164.3,370.4 167.9,377" fill="#f26f6f" stroke="#5a2a2a" stroke-width="0.7"/>
<text x="156" y="365.2" font-size="11.4" text-anchor="start" fill="#222" textLength="10.4" lengthAdjust="spacingAndGlyphs">ns</text>
<line x1="180.6" y1="324.4" x2="180.6" y2="341.3" stroke="#333" stroke-width="1.1"/>
<line x1="177.5" y1="324.4" x2="183.7" y2="324.4" stroke="#333" stroke-width="1.1"/>
<line x1="177.5" y1="341.3" x2="183.7" y2="341.3" stroke="#333" stroke-width="1.1"/>
<line x1="188.8" y1="322.3" x2="188.8" y2="341.3" stroke="#333" stroke-width="1.1"/>
<line x1="185.7" y1="322.3" x2="191.9" y2="322.3" stroke="#333" stroke-width="1.1"/>
<line x1="185.7" y1="341.3" x2="191.9" y2="341.3" stroke="#333" stroke-width="1.1"/>
<line x1="197.6" y1="358.7" x2="197.6" y2="371.4" stroke="#333" stroke-width="1.1"/>
<line x1="194.5" y1="358.7" x2="200.7" y2="358.7" stroke="#333" stroke-width="1.1"/>
<line x1="194.5" y1="371.4" x2="200.7" y2="371.4" stroke="#333" stroke-width="1.1"/>
<circle cx="180.6" cy="333" r="3.5" fill="#a2a2a6" stroke="#333" stroke-width="0.8"/>
<rect x="186" y="329.2" width="5.6" height="5.6" fill="#8484ff" stroke="#3a3a70" stroke-width="0.7"/>
<polygon points="194,368.3 197.6,361.7 201.2,368.3" fill="#f26f6f" stroke="#5a2a2a" stroke-width="0.7"/>
<text x="197.6" y="357.3" font-size="9.8" font-weight="bold" text-anchor="middle" fill="#222">*</text>
<line x1="213.3" y1="276.3" x2="213.3" y2="297.2" stroke="#333" stroke-width="1.1"/>
<line x1="210.2" y1="276.3" x2="216.4" y2="276.3" stroke="#333" stroke-width="1.1"/>
<line x1="210.2" y1="297.2" x2="216.4" y2="297.2" stroke="#333" stroke-width="1.1"/>
<line x1="221.9" y1="280.4" x2="221.9" y2="304.3" stroke="#333" stroke-width="1.1"/>
<line x1="218.8" y1="280.4" x2="225" y2="280.4" stroke="#333" stroke-width="1.1"/>
<line x1="218.8" y1="304.3" x2="225" y2="304.3" stroke="#333" stroke-width="1.1"/>
<line x1="230.3" y1="343.4" x2="230.3" y2="357.5" stroke="#333" stroke-width="1.1"/>
<line x1="227.2" y1="343.4" x2="233.4" y2="343.4" stroke="#333" stroke-width="1.1"/>
<line x1="227.2" y1="357.5" x2="233.4" y2="357.5" stroke="#333" stroke-width="1.1"/>
<circle cx="213.3" cy="287" r="3.5" fill="#a2a2a6" stroke="#333" stroke-width="0.8"/>
<rect x="219.1" y="289.9" width="5.6" height="5.6" fill="#8484ff" stroke="#3a3a70" stroke-width="0.7"/>
<polygon points="226.7,354 230.3,347.4 233.9,354" fill="#f26f6f" stroke="#5a2a2a" stroke-width="0.7"/>
<text x="230.3" y="343.6" font-size="9.8" font-weight="bold" text-anchor="middle" fill="#222">**</text>
<rect x="266" y="351.2" width="28" height="52.5" fill="none" stroke="#dcdcdc" stroke-width="0.7" stroke-dasharray="1.2,1.2"/>
<rect x="299" y="349.7" width="28.3" height="54" fill="none" stroke="#dcdcdc" stroke-width="0.7" stroke-dasharray="1.2,1.2"/>
<rect x="331.8" y="312" width="28" height="91.7" fill="none" stroke="#dcdcdc" stroke-width="0.7" stroke-dasharray="1.2,1.2"/>
<rect x="364.8" y="267.3" width="27.8" height="136.4" fill="none" stroke="#dcdcdc" stroke-width="0.7" stroke-dasharray="1.2,1.2"/>
<line x1="264.3" y1="265.5" x2="264.3" y2="405.6" stroke="#1a1a1a" stroke-width="1.6"/>
<line x1="258.5" y1="404.9" x2="264.3" y2="404.9" stroke="#1a1a1a" stroke-width="1.4"/>
<text x="255.9" y="408.3" font-size="9.6" font-weight="bold" text-anchor="end" fill="#111">0</text>
<line x1="258.5" y1="377.14" x2="264.3" y2="377.14" stroke="#1a1a1a" stroke-width="1.4"/>
<text x="255.9" y="380.54" font-size="9.6" font-weight="bold" text-anchor="end" fill="#111">5</text>
<line x1="258.5" y1="349.38" x2="264.3" y2="349.38" stroke="#1a1a1a" stroke-width="1.4"/>
<text x="255.9" y="352.78" font-size="9.6" font-weight="bold" text-anchor="end" fill="#111">10</text>
<line x1="258.5" y1="321.62" x2="264.3" y2="321.62" stroke="#1a1a1a" stroke-width="1.4"/>
<text x="255.9" y="325.02" font-size="9.6" font-weight="bold" text-anchor="end" fill="#111">15</text>
<line x1="258.5" y1="293.86" x2="264.3" y2="293.86" stroke="#1a1a1a" stroke-width="1.4"/>
<text x="255.9" y="297.26" font-size="9.6" font-weight="bold" text-anchor="end" fill="#111">20</text>
<line x1="258.5" y1="266.1" x2="264.3" y2="266.1" stroke="#1a1a1a" stroke-width="1.4"/>
<text x="255.9" y="269.5" font-size="9.6" font-weight="bold" text-anchor="end" fill="#111">25</text>
<line x1="258.5" y1="404.9" x2="395" y2="404.9" stroke="#1a1a1a" stroke-width="1.6"/>
<line x1="279.6" y1="404.9" x2="279.6" y2="411" stroke="#1a1a1a" stroke-width="1.3"/>
<line x1="312.6" y1="404.9" x2="312.6" y2="411" stroke="#1a1a1a" stroke-width="1.3"/>
<line x1="345.4" y1="404.9" x2="345.4" y2="411" stroke="#1a1a1a" stroke-width="1.3"/>
<line x1="378.4" y1="404.9" x2="378.4" y2="411" stroke="#1a1a1a" stroke-width="1.3"/>
<text x="281.6" y="420.4" font-size="10" text-anchor="end" fill="#111" transform="rotate(-45 281.6 420.4)">Vehicle</text>
<text x="319" y="417" font-size="10" text-anchor="end" fill="#111" transform="rotate(-45 319 417)"><tspan fill="#555">anti-PD-L1</tspan></text>
<text x="352.3" y="417.9" font-size="10" text-anchor="end" fill="#111" transform="rotate(-45 352.3 417.9)">NU7441</text>
<text x="382" y="419.2" font-size="10" text-anchor="end" fill="#111" transform="rotate(-45 382 419.2)"><tspan fill="#111">NU+</tspan><tspan fill="#555">anti-PD-L1</tspan></text>
<text x="328.4" y="261.1" font-size="10.7" text-anchor="middle" fill="#111">MHC-1</text>
<line x1="272.2" y1="355.4" x2="272.2" y2="372.3" stroke="#333" stroke-width="1.1"/>
<line x1="269.1" y1="355.4" x2="275.3" y2="355.4" stroke="#333" stroke-width="1.1"/>
<line x1="269.1" y1="372.3" x2="275.3" y2="372.3" stroke="#333" stroke-width="1.1"/>
<line x1="280.4" y1="359.2" x2="280.4" y2="371.1" stroke="#333" stroke-width="1.1"/>
<line x1="277.3" y1="359.2" x2="283.5" y2="359.2" stroke="#333" stroke-width="1.1"/>
<line x1="277.3" y1="371.1" x2="283.5" y2="371.1" stroke="#333" stroke-width="1.1"/>
<line x1="288.8" y1="356.7" x2="288.8" y2="366.6" stroke="#333" stroke-width="1.1"/>
<line x1="285.7" y1="356.7" x2="291.9" y2="356.7" stroke="#333" stroke-width="1.1"/>
<line x1="285.7" y1="366.6" x2="291.9" y2="366.6" stroke="#333" stroke-width="1.1"/>
<circle cx="272.2" cy="364.1" r="3.5" fill="#a2a2a6" stroke="#333" stroke-width="0.8"/>
<rect x="277.6" y="362.6" width="5.6" height="5.6" fill="#8484ff" stroke="#3a3a70" stroke-width="0.7"/>
<polygon points="285.2,365.2 288.8,358.6 292.4,365.2" fill="#f26f6f" stroke="#5a2a2a" stroke-width="0.7"/>
<text x="283.2" y="351.2" font-size="11.4" text-anchor="start" fill="#222" textLength="10.4" lengthAdjust="spacingAndGlyphs">ns</text>
<line x1="304.5" y1="356.2" x2="304.5" y2="367.1" stroke="#333" stroke-width="1.1"/>
<line x1="301.4" y1="356.2" x2="307.6" y2="356.2" stroke="#333" stroke-width="1.1"/>
<line x1="301.4" y1="367.1" x2="307.6" y2="367.1" stroke="#333" stroke-width="1.1"/>
<line x1="313.1" y1="354.2" x2="313.1" y2="367.9" stroke="#333" stroke-width="1.1"/>
<line x1="310" y1="354.2" x2="316.2" y2="354.2" stroke="#333" stroke-width="1.1"/>
<line x1="310" y1="367.9" x2="316.2" y2="367.9" stroke="#333" stroke-width="1.1"/>
<line x1="321.8" y1="354.2" x2="321.8" y2="369.1" stroke="#333" stroke-width="1.1"/>
<line x1="318.7" y1="354.2" x2="324.9" y2="354.2" stroke="#333" stroke-width="1.1"/>
<line x1="318.7" y1="369.1" x2="324.9" y2="369.1" stroke="#333" stroke-width="1.1"/>
<circle cx="304.5" cy="361.7" r="3.5" fill="#a2a2a6" stroke="#333" stroke-width="0.8"/>
<rect x="310.3" y="358.4" width="5.6" height="5.6" fill="#8484ff" stroke="#3a3a70" stroke-width="0.7"/>
<polygon points="318.2,365.2 321.8,358.6 325.4,365.2" fill="#f26f6f" stroke="#5a2a2a" stroke-width="0.7"/>
<text x="314.2" y="349.7" font-size="11.4" text-anchor="start" fill="#222" textLength="10.4" lengthAdjust="spacingAndGlyphs">ns</text>
<line x1="337.2" y1="329.4" x2="337.2" y2="340.6" stroke="#333" stroke-width="1.1"/>
<line x1="334.1" y1="329.4" x2="340.3" y2="329.4" stroke="#333" stroke-width="1.1"/>
<line x1="334.1" y1="340.6" x2="340.3" y2="340.6" stroke="#333" stroke-width="1.1"/>
<line x1="345.7" y1="325.7" x2="345.7" y2="341" stroke="#333" stroke-width="1.1"/>
<line x1="342.6" y1="325.7" x2="348.8" y2="325.7" stroke="#333" stroke-width="1.1"/>
<line x1="342.6" y1="341" x2="348.8" y2="341" stroke="#333" stroke-width="1.1"/>
<line x1="354.1" y1="353.5" x2="354.1" y2="365.4" stroke="#333" stroke-width="1.1"/>
<line x1="351" y1="353.5" x2="357.2" y2="353.5" stroke="#333" stroke-width="1.1"/>
<line x1="351" y1="365.4" x2="357.2" y2="365.4" stroke="#333" stroke-width="1.1"/>
<circle cx="337.2" cy="334.8" r="3.5" fill="#a2a2a6" stroke="#333" stroke-width="0.8"/>
<rect x="342.9" y="330.3" width="5.6" height="5.6" fill="#8484ff" stroke="#3a3a70" stroke-width="0.7"/>
<polygon points="350.5,362.7 354.1,356.1 357.7,362.7" fill="#f26f6f" stroke="#5a2a2a" stroke-width="0.7"/>
<text x="354.6" y="350.7" font-size="9.8" font-weight="bold" text-anchor="middle" fill="#222">*</text>
<line x1="370.2" y1="296.6" x2="370.2" y2="312.8" stroke="#333" stroke-width="1.1"/>
<line x1="367.1" y1="296.6" x2="373.3" y2="296.6" stroke="#333" stroke-width="1.1"/>
<line x1="367.1" y1="312.8" x2="373.3" y2="312.8" stroke="#333" stroke-width="1.1"/>
<line x1="378.4" y1="293.9" x2="378.4" y2="308.8" stroke="#333" stroke-width="1.1"/>
<line x1="375.3" y1="293.9" x2="381.5" y2="293.9" stroke="#333" stroke-width="1.1"/>
<line x1="375.3" y1="308.8" x2="381.5" y2="308.8" stroke="#333" stroke-width="1.1"/>
<circle cx="370.2" cy="304.6" r="3.5" fill="#a2a2a6" stroke="#333" stroke-width="0.8"/>
<rect x="375.6" y="298.5" width="5.6" height="5.6" fill="#8484ff" stroke="#3a3a70" stroke-width="0.7"/>
<polygon points="383.3,344.1 386.9,337.5 390.5,344.1" fill="#f26f6f" stroke="#5a2a2a" stroke-width="0.7"/>
<text x="387.6" y="336.5" font-size="9.8" font-weight="bold" text-anchor="middle" fill="#222">**</text>
<rect x="434.4" y="344" width="28.3" height="60.7" fill="none" stroke="#dcdcdc" stroke-width="0.7" stroke-dasharray="1.2,1.2"/>
<rect x="467.7" y="346.8" width="27.7" height="57.9" fill="none" stroke="#dcdcdc" stroke-width="0.7" stroke-dasharray="1.2,1.2"/>
<rect x="500.4" y="312.4" width="27.7" height="92.3" fill="none" stroke="#dcdcdc" stroke-width="0.7" stroke-dasharray="1.2,1.2"/>
<rect x="533.4" y="277.5" width="28" height="127.2" fill="none" stroke="#dcdcdc" stroke-width="0.7" stroke-dasharray="1.2,1.2"/>
<line x1="432.4" y1="265.2" x2="432.4" y2="406.6" stroke="#1a1a1a" stroke-width="1.6"/>
<line x1="426.6" y1="405.9" x2="432.4" y2="405.9" stroke="#1a1a1a" stroke-width="1.4"/>
<text x="424" y="409.3" font-size="9.6" font-weight="bold" text-anchor="end" fill="#111">0</text>
<line x1="426.6" y1="359.2" x2="432.4" y2="359.2" stroke="#1a1a1a" stroke-width="1.4"/>
<text x="424" y="362.6" font-size="9.6" font-weight="bold" text-anchor="end" fill="#111">5</text>
<line x1="426.6" y1="312.5" x2="432.4" y2="312.5" stroke="#1a1a1a" stroke-width="1.4"/>
<text x="424" y="315.9" font-size="9.6" font-weight="bold" text-anchor="end" fill="#111">10</text>
<line x1="426.6" y1="265.8" x2="432.4" y2="265.8" stroke="#1a1a1a" stroke-width="1.4"/>
<text x="424" y="269.2" font-size="9.6" font-weight="bold" text-anchor="end" fill="#111">15</text>
<line x1="426.6" y1="405.9" x2="564.2" y2="405.9" stroke="#1a1a1a" stroke-width="1.6"/>
<line x1="448.3" y1="405.9" x2="448.3" y2="412" stroke="#1a1a1a" stroke-width="1.3"/>
<line x1="481" y1="405.9" x2="481" y2="412" stroke="#1a1a1a" stroke-width="1.3"/>
<line x1="514" y1="405.9" x2="514" y2="412" stroke="#1a1a1a" stroke-width="1.3"/>
<line x1="547.3" y1="405.9" x2="547.3" y2="412" stroke="#1a1a1a" stroke-width="1.3"/>
<text x="447.3" y="425" font-size="10" font-weight="bold" text-anchor="end" fill="#111" transform="rotate(-45 447.3 425)">Vehicle</text>
<text x="481.8" y="422" font-size="10" font-weight="bold" text-anchor="end" fill="#111" transform="rotate(-45 481.8 422)">anti-PD-L1</text>
<text x="514.5" y="423.5" font-size="10" font-weight="bold" text-anchor="end" fill="#111" transform="rotate(-45 514.5 423.5)">NU7441</text>
<text x="547.8" y="421.3" font-size="10" font-weight="bold" text-anchor="end" fill="#111" transform="rotate(-45 547.8 421.3)">NU+anti-PD-L1</text>
<text x="494.2" y="261.6" font-size="10.7" text-anchor="middle" fill="#111">M1 Macrophages</text>
<line x1="439.9" y1="358.7" x2="439.9" y2="375.4" stroke="#333" stroke-width="1.1"/>
<line x1="436.8" y1="358.7" x2="443" y2="358.7" stroke="#333" stroke-width="1.1"/>
<line x1="436.8" y1="375.4" x2="443" y2="375.4" stroke="#333" stroke-width="1.1"/>
<line x1="448.3" y1="350.4" x2="448.3" y2="374" stroke="#333" stroke-width="1.1"/>
<line x1="445.2" y1="350.4" x2="451.4" y2="350.4" stroke="#333" stroke-width="1.1"/>
<line x1="445.2" y1="374" x2="451.4" y2="374" stroke="#333" stroke-width="1.1"/>
<line x1="456.6" y1="354.6" x2="456.6" y2="377.3" stroke="#333" stroke-width="1.1"/>
<line x1="453.5" y1="354.6" x2="459.7" y2="354.6" stroke="#333" stroke-width="1.1"/>
<line x1="453.5" y1="377.3" x2="459.7" y2="377.3" stroke="#333" stroke-width="1.1"/>
<circle cx="439.9" cy="367.1" r="3.5" fill="#a2a2a6" stroke="#333" stroke-width="0.8"/>
<rect x="445.5" y="359.5" width="5.6" height="5.6" fill="#8484ff" stroke="#3a3a70" stroke-width="0.7"/>
<polygon points="453,369.5 456.6,362.9 460.2,369.5" fill="#f26f6f" stroke="#5a2a2a" stroke-width="0.7"/>
<text x="452.2" y="350.4" font-size="11.4" text-anchor="start" fill="#222" textLength="10.4" lengthAdjust="spacingAndGlyphs">ns</text>
<line x1="472.7" y1="357.3" x2="472.7" y2="369" stroke="#333" stroke-width="1.1"/>
<line x1="469.6" y1="357.3" x2="475.8" y2="357.3" stroke="#333" stroke-width="1.1"/>
<line x1="469.6" y1="369" x2="475.8" y2="369" stroke="#333" stroke-width="1.1"/>
<line x1="481" y1="350.4" x2="481" y2="372" stroke="#333" stroke-width="1.1"/>
<line x1="477.9" y1="350.4" x2="484.1" y2="350.4" stroke="#333" stroke-width="1.1"/>
<line x1="477.9" y1="372" x2="484.1" y2="372" stroke="#333" stroke-width="1.1"/>
<line x1="489.9" y1="351.8" x2="489.9" y2="369.8" stroke="#333" stroke-width="1.1"/>
<line x1="486.8" y1="351.8" x2="493" y2="351.8" stroke="#333" stroke-width="1.1"/>
<line x1="486.8" y1="369.8" x2="493" y2="369.8" stroke="#333" stroke-width="1.1"/>
<circle cx="472.7" cy="362.9" r="3.5" fill="#a2a2a6" stroke="#333" stroke-width="0.8"/>
<rect x="478.2" y="358.7" width="5.6" height="5.6" fill="#8484ff" stroke="#3a3a70" stroke-width="0.7"/>
<polygon points="486.3,364 489.9,357.4 493.5,364" fill="#f26f6f" stroke="#5a2a2a" stroke-width="0.7"/>
<text x="484.1" y="348.2" font-size="11.4" text-anchor="start" fill="#222" textLength="10.4" lengthAdjust="spacingAndGlyphs">ns</text>
<line x1="506" y1="325.4" x2="506" y2="334.3" stroke="#333" stroke-width="1.1"/>
<line x1="502.9" y1="325.4" x2="509.1" y2="325.4" stroke="#333" stroke-width="1.1"/>
<line x1="502.9" y1="334.3" x2="509.1" y2="334.3" stroke="#333" stroke-width="1.1"/>
<line x1="514.3" y1="316.6" x2="514.3" y2="343.5" stroke="#333" stroke-width="1.1"/>
<line x1="511.2" y1="316.6" x2="517.4" y2="316.6" stroke="#333" stroke-width="1.1"/>
<line x1="511.2" y1="343.5" x2="517.4" y2="343.5" stroke="#333" stroke-width="1.1"/>
<line x1="523.1" y1="349.6" x2="523.1" y2="357.3" stroke="#333" stroke-width="1.1"/>
<line x1="520" y1="349.6" x2="526.2" y2="349.6" stroke="#333" stroke-width="1.1"/>
<line x1="520" y1="357.3" x2="526.2" y2="357.3" stroke="#333" stroke-width="1.1"/>
<circle cx="506" cy="330.2" r="3.5" fill="#a2a2a6" stroke="#333" stroke-width="0.8"/>
<rect x="511.5" y="327.4" width="5.6" height="5.6" fill="#8484ff" stroke="#3a3a70" stroke-width="0.7"/>
<polygon points="519.5,357 523.1,350.4 526.7,357" fill="#f26f6f" stroke="#5a2a2a" stroke-width="0.7"/>
<text x="523.1" y="347.5" font-size="9.8" font-weight="bold" text-anchor="middle" fill="#222">**</text>
<line x1="539" y1="288.6" x2="539" y2="301.9" stroke="#333" stroke-width="1.1"/>
<line x1="535.9" y1="288.6" x2="542.1" y2="288.6" stroke="#333" stroke-width="1.1"/>
<line x1="535.9" y1="301.9" x2="542.1" y2="301.9" stroke="#333" stroke-width="1.1"/>
<line x1="547.3" y1="284.7" x2="547.3" y2="295.8" stroke="#333" stroke-width="1.1"/>
<line x1="544.2" y1="284.7" x2="550.4" y2="284.7" stroke="#333" stroke-width="1.1"/>
<line x1="544.2" y1="295.8" x2="550.4" y2="295.8" stroke="#333" stroke-width="1.1"/>
<line x1="555.9" y1="342.1" x2="555.9" y2="361" stroke="#333" stroke-width="1.1"/>
<line x1="552.8" y1="342.1" x2="559" y2="342.1" stroke="#333" stroke-width="1.1"/>
<line x1="552.8" y1="361" x2="559" y2="361" stroke="#333" stroke-width="1.1"/>
<circle cx="539" cy="294.9" r="3.5" fill="#a2a2a6" stroke="#333" stroke-width="0.8"/>
<rect x="544.5" y="287.2" width="5.6" height="5.6" fill="#8484ff" stroke="#3a3a70" stroke-width="0.7"/>
<polygon points="552.3,354.8 555.9,348.2 559.5,354.8" fill="#f26f6f" stroke="#5a2a2a" stroke-width="0.7"/>
<text x="555.9" y="339.5" font-size="9.8" font-weight="bold" text-anchor="middle" fill="#222">**</text>
<circle cx="588.9" cy="303" r="4.1" fill="#8e8e8e" stroke="#444" stroke-width="0.8"/>
<text x="596.6" y="306.6" font-size="9.4" text-anchor="start" fill="#111">Control</text>
<rect x="584.6" y="321.8" width="8.7" height="8.7" fill="#8080ff" stroke="#444" stroke-width="0.7"/>
<text x="597.8" y="329.6" font-size="9.4" text-anchor="start" fill="#111">si-SCR</text>
<polygon points="584.7,350.2 589.2,341.6 593.7,350.2" fill="#f07070" stroke="#553333" stroke-width="0.8"/>
<text x="597.8" y="349.2" font-size="9.4" text-anchor="start" fill="#111">si-STING</text>
<text x="0" y="0" font-size="14.4" fill="#111" transform="translate(1.4 514.8) scale(1.2 1)">H</text>
<text x="189.6" y="514.7" font-size="14.2" text-anchor="start" fill="#111">I</text>
<text x="0" y="0" font-size="14.4" fill="#111" transform="translate(359 515.5) scale(1.1 1)">J</text>
<text x="0" y="0" font-size="14.4" fill="#111" transform="translate(521.9 515.5) scale(1.12 1)">K</text>
<line x1="21" y1="523.2" x2="21" y2="675.2" stroke="#111" stroke-width="1.2"/>
<polygon points="19,524.7 21,520.2 23,524.7" fill="#111"/>
<text x="14.6" y="540.85" font-size="13" text-anchor="middle" fill="#111" transform="rotate(-90 14.6 540.85)">RPM</text>
<text x="11" y="610.4" font-size="9.9" text-anchor="middle" fill="#111" transform="rotate(-90 11 610.4)">Tumor Volume (mm<tspan font-size="6.73" dy="-3.4">3</tspan><tspan dy="3.4">)</tspan></text>
<line x1="49.1" y1="522.33" x2="49.1" y2="667.4" stroke="#1a1a1a" stroke-width="1.6"/>
<line x1="45.1" y1="666.7" x2="49.1" y2="666.7" stroke="#1a1a1a" stroke-width="1.3"/>
<text x="43.5" y="670.1" font-size="8.8" font-weight="bold" text-anchor="end" fill="#111">0</text>
<line x1="45.1" y1="647.45" x2="49.1" y2="647.45" stroke="#1a1a1a" stroke-width="1.3"/>
<text x="43.5" y="650.85" font-size="8.8" font-weight="bold" text-anchor="end" fill="#111">200</text>
<line x1="45.1" y1="628.2" x2="49.1" y2="628.2" stroke="#1a1a1a" stroke-width="1.3"/>
<text x="43.5" y="631.6" font-size="8.8" font-weight="bold" text-anchor="end" fill="#111">400</text>
<line x1="45.1" y1="608.95" x2="49.1" y2="608.95" stroke="#1a1a1a" stroke-width="1.3"/>
<text x="43.5" y="612.35" font-size="8.8" font-weight="bold" text-anchor="end" fill="#111">600</text>
<line x1="45.1" y1="589.7" x2="49.1" y2="589.7" stroke="#1a1a1a" stroke-width="1.3"/>
<text x="43.5" y="593.1" font-size="8.8" font-weight="bold" text-anchor="end" fill="#111">800</text>
<line x1="45.1" y1="570.45" x2="49.1" y2="570.45" stroke="#1a1a1a" stroke-width="1.3"/>
<text x="43.5" y="573.85" font-size="8.8" font-weight="bold" text-anchor="end" fill="#111">1000</text>
<line x1="45.1" y1="551.2" x2="49.1" y2="551.2" stroke="#1a1a1a" stroke-width="1.3"/>
<text x="43.5" y="554.6" font-size="8.8" font-weight="bold" text-anchor="end" fill="#111">1200</text>
<line x1="45.1" y1="531.95" x2="49.1" y2="531.95" stroke="#1a1a1a" stroke-width="1.3"/>
<text x="43.5" y="535.35" font-size="8.8" font-weight="bold" text-anchor="end" fill="#111">1400</text>
<line x1="48.4" y1="666.7" x2="185" y2="666.7" stroke="#1a1a1a" stroke-width="1.6"/>
<line x1="65.7" y1="666.7" x2="65.7" y2="670.5" stroke="#1a1a1a" stroke-width="1.3"/>
<text x="68.29" y="672.1" font-size="7.2" font-weight="bold" text-anchor="end" fill="#111" transform="rotate(-90 68.29 672.1)">5</text>
<line x1="91.18" y1="666.7" x2="91.18" y2="670.5" stroke="#1a1a1a" stroke-width="1.3"/>
<text x="93.07" y="672.1" font-size="7.2" font-weight="bold" text-anchor="end" fill="#111" transform="rotate(-90 93.07 672.1)">10</text>
<line x1="116.66" y1="666.7" x2="116.66" y2="670.5" stroke="#1a1a1a" stroke-width="1.3"/>
<text x="118.55" y="672.1" font-size="7.2" font-weight="bold" text-anchor="end" fill="#111" transform="rotate(-90 118.55 672.1)">15</text>
<line x1="142.14" y1="666.7" x2="142.14" y2="670.5" stroke="#1a1a1a" stroke-width="1.3"/>
<text x="144.03" y="672.1" font-size="7.2" font-weight="bold" text-anchor="end" fill="#111" transform="rotate(-90 144.03 672.1)">20</text>
<line x1="167.62" y1="666.7" x2="167.62" y2="670.5" stroke="#1a1a1a" stroke-width="1.3"/>
<text x="169.51" y="672.1" font-size="7.2" font-weight="bold" text-anchor="end" fill="#111" transform="rotate(-90 169.51 672.1)">25</text>
<text x="115.66" y="690" font-size="7.5" font-weight="bold" text-anchor="middle" fill="#111">Number on treatment days</text>
<text x="113" y="520" font-size="10.5" text-anchor="middle" fill="#111">Vehicle</text>
<line x1="91.18" y1="626.28" x2="91.18" y2="634.94" stroke="#00c000" stroke-width="1"/>
<line x1="88.18" y1="626.28" x2="94.18" y2="626.28" stroke="#00c000" stroke-width="1.2"/>
<line x1="88.18" y1="634.94" x2="94.18" y2="634.94" stroke="#00c000" stroke-width="1.2"/>
<line x1="116.66" y1="600.29" x2="116.66" y2="609.91" stroke="#00c000" stroke-width="1"/>
<line x1="113.66" y1="600.29" x2="119.66" y2="600.29" stroke="#00c000" stroke-width="1.2"/>
<line x1="113.66" y1="609.91" x2="119.66" y2="609.91" stroke="#00c000" stroke-width="1.2"/>
<line x1="142.14" y1="569.58" x2="142.14" y2="585.37" stroke="#00c000" stroke-width="1"/>
<line x1="139.14" y1="569.58" x2="145.14" y2="569.58" stroke="#00c000" stroke-width="1.2"/>
<line x1="139.14" y1="585.37" x2="145.14" y2="585.37" stroke="#00c000" stroke-width="1.2"/>
<line x1="167.62" y1="538.01" x2="167.62" y2="566.89" stroke="#00c000" stroke-width="1"/>
<line x1="164.62" y1="538.01" x2="170.62" y2="538.01" stroke="#00c000" stroke-width="1.2"/>
<line x1="164.62" y1="566.89" x2="170.62" y2="566.89" stroke="#00c000" stroke-width="1.2"/>
<polyline points="65.7,654.57 91.18,630.61 116.66,605.1 142.14,577.48 167.62,552.45" fill="none" stroke="#00c000" stroke-width="1.3"/>
<rect x="62.6" y="651.47" width="6.2" height="6.2" fill="#00c000"/>
<rect x="88.08" y="627.51" width="6.2" height="6.2" fill="#00c000"/>
<rect x="113.56" y="602" width="6.2" height="6.2" fill="#00c000"/>
<rect x="139.04" y="574.38" width="6.2" height="6.2" fill="#00c000"/>
<rect x="164.52" y="549.35" width="6.2" height="6.2" fill="#00c000"/>
<polyline points="65.7,654.57 91.18,631.57 116.66,606.06 142.14,578.15 167.62,550.24" fill="none" stroke="#0000c8" stroke-width="1.6"/>
<rect x="62.6" y="651.47" width="6.2" height="6.2" fill="#0000c8"/>
<rect x="88.08" y="628.47" width="6.2" height="6.2" fill="#0000c8"/>
<rect x="113.56" y="602.96" width="6.2" height="6.2" fill="#0000c8"/>
<rect x="139.04" y="575.05" width="6.2" height="6.2" fill="#0000c8"/>
<rect x="164.52" y="547.14" width="6.2" height="6.2" fill="#0000c8"/>
<line x1="91.18" y1="627.14" x2="91.18" y2="634.84" stroke="#303030" stroke-width="1"/>
<line x1="88.18" y1="627.14" x2="94.18" y2="627.14" stroke="#303030" stroke-width="1.2"/>
<line x1="88.18" y1="634.84" x2="94.18" y2="634.84" stroke="#303030" stroke-width="1.2"/>
<line x1="116.66" y1="600.38" x2="116.66" y2="609.05" stroke="#303030" stroke-width="1"/>
<line x1="113.66" y1="600.38" x2="119.66" y2="600.38" stroke="#303030" stroke-width="1.2"/>
<line x1="113.66" y1="609.05" x2="119.66" y2="609.05" stroke="#303030" stroke-width="1.2"/>
<line x1="142.14" y1="561.02" x2="142.14" y2="592.78" stroke="#303030" stroke-width="1"/>
<line x1="139.14" y1="561.02" x2="145.14" y2="561.02" stroke="#303030" stroke-width="1.2"/>
<line x1="139.14" y1="592.78" x2="145.14" y2="592.78" stroke="#303030" stroke-width="1.2"/>
<line x1="167.62" y1="537.44" x2="167.62" y2="558.61" stroke="#303030" stroke-width="1"/>
<line x1="164.62" y1="537.44" x2="170.62" y2="537.44" stroke="#303030" stroke-width="1.2"/>
<line x1="164.62" y1="558.61" x2="170.62" y2="558.61" stroke="#303030" stroke-width="1.2"/>
<polyline points="65.7,654.57 91.18,630.99 116.66,604.72 142.14,576.9 167.62,548.02" fill="none" stroke="#ff8000" stroke-width="1.3" stroke-dasharray="2.2,1.6"/>
<rect x="62.6" y="651.47" width="6.2" height="6.2" fill="#ff8000"/>
<rect x="88.08" y="627.89" width="6.2" height="6.2" fill="#ff8000"/>
<rect x="113.56" y="601.62" width="6.2" height="6.2" fill="#ff8000"/>
<rect x="139.04" y="573.8" width="6.2" height="6.2" fill="#ff8000"/>
<rect x="164.52" y="544.92" width="6.2" height="6.2" fill="#ff8000"/>
<text x="163.2" y="581.7" font-size="11.6" text-anchor="start" fill="#222" textLength="10.4" lengthAdjust="spacingAndGlyphs">ns</text>
<line x1="208.9" y1="522.33" x2="208.9" y2="667.4" stroke="#1a1a1a" stroke-width="1.6"/>
<line x1="204.9" y1="666.7" x2="208.9" y2="666.7" stroke="#1a1a1a" stroke-width="1.3"/>
<text x="203.3" y="670.1" font-size="8.8" font-weight="bold" text-anchor="end" fill="#111">0</text>
<line x1="204.9" y1="647.45" x2="208.9" y2="647.45" stroke="#1a1a1a" stroke-width="1.3"/>
<text x="203.3" y="650.85" font-size="8.8" font-weight="bold" text-anchor="end" fill="#111">200</text>
<line x1="204.9" y1="628.2" x2="208.9" y2="628.2" stroke="#1a1a1a" stroke-width="1.3"/>
<text x="203.3" y="631.6" font-size="8.8" font-weight="bold" text-anchor="end" fill="#111">400</text>
<line x1="204.9" y1="608.95" x2="208.9" y2="608.95" stroke="#1a1a1a" stroke-width="1.3"/>
<text x="203.3" y="612.35" font-size="8.8" font-weight="bold" text-anchor="end" fill="#111">600</text>
<line x1="204.9" y1="589.7" x2="208.9" y2="589.7" stroke="#1a1a1a" stroke-width="1.3"/>
<text x="203.3" y="593.1" font-size="8.8" font-weight="bold" text-anchor="end" fill="#111">800</text>
<line x1="204.9" y1="570.45" x2="208.9" y2="570.45" stroke="#1a1a1a" stroke-width="1.3"/>
<text x="203.3" y="573.85" font-size="8.8" font-weight="bold" text-anchor="end" fill="#111">1000</text>
<line x1="204.9" y1="551.2" x2="208.9" y2="551.2" stroke="#1a1a1a" stroke-width="1.3"/>
<text x="203.3" y="554.6" font-size="8.8" font-weight="bold" text-anchor="end" fill="#111">1200</text>
<line x1="204.9" y1="531.95" x2="208.9" y2="531.95" stroke="#1a1a1a" stroke-width="1.3"/>
<text x="203.3" y="535.35" font-size="8.8" font-weight="bold" text-anchor="end" fill="#111">1400</text>
<line x1="208.2" y1="666.7" x2="342.6" y2="666.7" stroke="#1a1a1a" stroke-width="1.6"/>
<line x1="224.4" y1="666.7" x2="224.4" y2="670.5" stroke="#1a1a1a" stroke-width="1.3"/>
<text x="226.96" y="672.1" font-size="7.1" font-weight="bold" text-anchor="end" fill="#111" transform="rotate(-90 226.96 672.1)">5</text>
<line x1="249.75" y1="666.7" x2="249.75" y2="670.5" stroke="#1a1a1a" stroke-width="1.3"/>
<text x="251.61" y="672.1" font-size="7.1" font-weight="bold" text-anchor="end" fill="#111" transform="rotate(-90 251.61 672.1)">10</text>
<line x1="275.1" y1="666.7" x2="275.1" y2="670.5" stroke="#1a1a1a" stroke-width="1.3"/>
<text x="276.96" y="672.1" font-size="7.1" font-weight="bold" text-anchor="end" fill="#111" transform="rotate(-90 276.96 672.1)">15</text>
<line x1="300.45" y1="666.7" x2="300.45" y2="670.5" stroke="#1a1a1a" stroke-width="1.3"/>
<text x="302.31" y="672.1" font-size="7.1" font-weight="bold" text-anchor="end" fill="#111" transform="rotate(-90 302.31 672.1)">20</text>
<line x1="325.8" y1="666.7" x2="325.8" y2="670.5" stroke="#1a1a1a" stroke-width="1.3"/>
<text x="327.66" y="672.1" font-size="7.1" font-weight="bold" text-anchor="end" fill="#111" transform="rotate(-90 327.66 672.1)">25</text>
<text x="275.1" y="690" font-size="7.6" font-weight="bold" text-anchor="middle" fill="#111">Number on treatment days</text>
<text x="275.8" y="520" font-size="10.5" text-anchor="middle" fill="#111">Anti-PD-L1</text>
<line x1="249.75" y1="626.37" x2="249.75" y2="635.03" stroke="#00c000" stroke-width="1"/>
<line x1="246.75" y1="626.37" x2="252.75" y2="626.37" stroke="#00c000" stroke-width="1.2"/>
<line x1="246.75" y1="635.03" x2="252.75" y2="635.03" stroke="#00c000" stroke-width="1.2"/>
<line x1="275.1" y1="601.06" x2="275.1" y2="612.61" stroke="#00c000" stroke-width="1"/>
<line x1="272.1" y1="601.06" x2="278.1" y2="601.06" stroke="#00c000" stroke-width="1.2"/>
<line x1="272.1" y1="612.61" x2="278.1" y2="612.61" stroke="#00c000" stroke-width="1.2"/>
<line x1="300.45" y1="575.46" x2="300.45" y2="588.93" stroke="#00c000" stroke-width="1"/>
<line x1="297.45" y1="575.46" x2="303.45" y2="575.46" stroke="#00c000" stroke-width="1.2"/>
<line x1="297.45" y1="588.93" x2="303.45" y2="588.93" stroke="#00c000" stroke-width="1.2"/>
<line x1="325.8" y1="547.35" x2="325.8" y2="568.53" stroke="#00c000" stroke-width="1"/>
<line x1="322.8" y1="547.35" x2="328.8" y2="547.35" stroke="#00c000" stroke-width="1.2"/>
<line x1="322.8" y1="568.53" x2="328.8" y2="568.53" stroke="#00c000" stroke-width="1.2"/>
<polyline points="224.4,654.57 249.75,630.7 275.1,606.83 300.45,582.19 325.8,557.94" fill="none" stroke="#00c000" stroke-width="1.3"/>
<rect x="221.3" y="651.47" width="6.2" height="6.2" fill="#00c000"/>
<rect x="246.65" y="627.6" width="6.2" height="6.2" fill="#00c000"/>
<rect x="272" y="603.73" width="6.2" height="6.2" fill="#00c000"/>
<rect x="297.35" y="579.09" width="6.2" height="6.2" fill="#00c000"/>
<rect x="322.7" y="554.84" width="6.2" height="6.2" fill="#00c000"/>
<polyline points="224.4,654.57 249.75,631.86 275.1,608.47 300.45,585.27 325.8,561.79" fill="none" stroke="#0000c8" stroke-width="1.6"/>
<rect x="221.3" y="651.47" width="6.2" height="6.2" fill="#0000c8"/>
<rect x="246.65" y="628.76" width="6.2" height="6.2" fill="#0000c8"/>
<rect x="272" y="605.37" width="6.2" height="6.2" fill="#0000c8"/>
<rect x="297.35" y="582.17" width="6.2" height="6.2" fill="#0000c8"/>
<rect x="322.7" y="558.69" width="6.2" height="6.2" fill="#0000c8"/>
<line x1="249.75" y1="627.14" x2="249.75" y2="634.84" stroke="#303030" stroke-width="1"/>
<line x1="246.75" y1="627.14" x2="252.75" y2="627.14" stroke="#303030" stroke-width="1.2"/>
<line x1="246.75" y1="634.84" x2="252.75" y2="634.84" stroke="#303030" stroke-width="1.2"/>
<line x1="275.1" y1="600.58" x2="275.1" y2="614.05" stroke="#303030" stroke-width="1"/>
<line x1="272.1" y1="600.58" x2="278.1" y2="600.58" stroke="#303030" stroke-width="1.2"/>
<line x1="272.1" y1="614.05" x2="278.1" y2="614.05" stroke="#303030" stroke-width="1.2"/>
<line x1="300.45" y1="571.8" x2="300.45" y2="593.55" stroke="#303030" stroke-width="1"/>
<line x1="297.45" y1="571.8" x2="303.45" y2="571.8" stroke="#303030" stroke-width="1.2"/>
<line x1="297.45" y1="593.55" x2="303.45" y2="593.55" stroke="#303030" stroke-width="1.2"/>
<line x1="325.8" y1="546" x2="325.8" y2="572.18" stroke="#303030" stroke-width="1"/>
<line x1="322.8" y1="546" x2="328.8" y2="546" stroke="#303030" stroke-width="1.2"/>
<line x1="322.8" y1="572.18" x2="328.8" y2="572.18" stroke="#303030" stroke-width="1.2"/>
<polyline points="224.4,654.57 249.75,630.99 275.1,607.31 300.45,582.67 325.8,559.09" fill="none" stroke="#ff8000" stroke-width="1.3" stroke-dasharray="2.2,1.6"/>
<rect x="221.3" y="651.47" width="6.2" height="6.2" fill="#ff8000"/>
<rect x="246.65" y="627.89" width="6.2" height="6.2" fill="#ff8000"/>
<rect x="272" y="604.21" width="6.2" height="6.2" fill="#ff8000"/>
<rect x="297.35" y="579.57" width="6.2" height="6.2" fill="#ff8000"/>
<rect x="322.7" y="555.99" width="6.2" height="6.2" fill="#ff8000"/>
<text x="320" y="581.7" font-size="11.6" text-anchor="start" fill="#222" textLength="10.4" lengthAdjust="spacingAndGlyphs">ns</text>
<line x1="375.5" y1="522.33" x2="375.5" y2="667.4" stroke="#1a1a1a" stroke-width="1.6"/>
<line x1="371.5" y1="666.7" x2="375.5" y2="666.7" stroke="#1a1a1a" stroke-width="1.3"/>
<text x="369.9" y="670.1" font-size="8.8" font-weight="bold" text-anchor="end" fill="#111">0</text>
<line x1="371.5" y1="647.45" x2="375.5" y2="647.45" stroke="#1a1a1a" stroke-width="1.3"/>
<text x="369.9" y="650.85" font-size="8.8" font-weight="bold" text-anchor="end" fill="#111">200</text>
<line x1="371.5" y1="628.2" x2="375.5" y2="628.2" stroke="#1a1a1a" stroke-width="1.3"/>
<text x="369.9" y="631.6" font-size="8.8" font-weight="bold" text-anchor="end" fill="#111">400</text>
<line x1="371.5" y1="608.95" x2="375.5" y2="608.95" stroke="#1a1a1a" stroke-width="1.3"/>
<text x="369.9" y="612.35" font-size="8.8" font-weight="bold" text-anchor="end" fill="#111">600</text>
<line x1="371.5" y1="589.7" x2="375.5" y2="589.7" stroke="#1a1a1a" stroke-width="1.3"/>
<text x="369.9" y="593.1" font-size="8.8" font-weight="bold" text-anchor="end" fill="#111">800</text>
<line x1="371.5" y1="570.45" x2="375.5" y2="570.45" stroke="#1a1a1a" stroke-width="1.3"/>
<text x="369.9" y="573.85" font-size="8.8" font-weight="bold" text-anchor="end" fill="#111">1000</text>
<line x1="371.5" y1="551.2" x2="375.5" y2="551.2" stroke="#1a1a1a" stroke-width="1.3"/>
<text x="369.9" y="554.6" font-size="8.8" font-weight="bold" text-anchor="end" fill="#111">1200</text>
<line x1="371.5" y1="531.95" x2="375.5" y2="531.95" stroke="#1a1a1a" stroke-width="1.3"/>
<text x="369.9" y="535.35" font-size="8.8" font-weight="bold" text-anchor="end" fill="#111">1400</text>
<line x1="374.8" y1="666.7" x2="510.8" y2="666.7" stroke="#1a1a1a" stroke-width="1.6"/>
<line x1="392.5" y1="666.7" x2="392.5" y2="670.5" stroke="#1a1a1a" stroke-width="1.3"/>
<text x="395.02" y="672.1" font-size="7" font-weight="bold" text-anchor="end" fill="#111" transform="rotate(-90 395.02 672.1)">5</text>
<line x1="417.8" y1="666.7" x2="417.8" y2="670.5" stroke="#1a1a1a" stroke-width="1.3"/>
<text x="419.62" y="672.1" font-size="7" font-weight="bold" text-anchor="end" fill="#111" transform="rotate(-90 419.62 672.1)">10</text>
<line x1="443.1" y1="666.7" x2="443.1" y2="670.5" stroke="#1a1a1a" stroke-width="1.3"/>
<text x="444.92" y="672.1" font-size="7" font-weight="bold" text-anchor="end" fill="#111" transform="rotate(-90 444.92 672.1)">15</text>
<line x1="468.4" y1="666.7" x2="468.4" y2="670.5" stroke="#1a1a1a" stroke-width="1.3"/>
<text x="470.22" y="672.1" font-size="7" font-weight="bold" text-anchor="end" fill="#111" transform="rotate(-90 470.22 672.1)">20</text>
<line x1="493.7" y1="666.7" x2="493.7" y2="670.5" stroke="#1a1a1a" stroke-width="1.3"/>
<text x="495.52" y="672.1" font-size="7" font-weight="bold" text-anchor="end" fill="#111" transform="rotate(-90 495.52 672.1)">25</text>
<text x="443.1" y="690" font-size="7.65" font-weight="bold" text-anchor="middle" fill="#111">Number on treatment days</text>
<text x="441" y="520" font-size="10.5" text-anchor="middle" fill="#111">NU7441</text>
<line x1="417.8" y1="627.05" x2="417.8" y2="634.75" stroke="#00c000" stroke-width="1"/>
<line x1="414.8" y1="627.05" x2="420.8" y2="627.05" stroke="#00c000" stroke-width="1.2"/>
<line x1="414.8" y1="634.75" x2="420.8" y2="634.75" stroke="#00c000" stroke-width="1.2"/>
<line x1="443.1" y1="605.1" x2="443.1" y2="614.73" stroke="#00c000" stroke-width="1"/>
<line x1="440.1" y1="605.1" x2="446.1" y2="605.1" stroke="#00c000" stroke-width="1.2"/>
<line x1="440.1" y1="614.73" x2="446.1" y2="614.73" stroke="#00c000" stroke-width="1.2"/>
<line x1="468.4" y1="589.41" x2="468.4" y2="599.04" stroke="#00c000" stroke-width="1"/>
<line x1="465.4" y1="589.41" x2="471.4" y2="589.41" stroke="#00c000" stroke-width="1.2"/>
<line x1="465.4" y1="599.04" x2="471.4" y2="599.04" stroke="#00c000" stroke-width="1.2"/>
<line x1="493.7" y1="580.56" x2="493.7" y2="588.26" stroke="#00c000" stroke-width="1"/>
<line x1="490.7" y1="580.56" x2="496.7" y2="580.56" stroke="#00c000" stroke-width="1.2"/>
<line x1="490.7" y1="588.26" x2="496.7" y2="588.26" stroke="#00c000" stroke-width="1.2"/>
<polyline points="392.5,654.67 417.8,630.9 443.1,609.91 468.4,594.22 493.7,584.41" fill="none" stroke="#00c000" stroke-width="1.3"/>
<rect x="389.4" y="651.57" width="6.2" height="6.2" fill="#00c000"/>
<rect x="414.7" y="627.8" width="6.2" height="6.2" fill="#00c000"/>
<rect x="440" y="606.81" width="6.2" height="6.2" fill="#00c000"/>
<rect x="465.3" y="591.12" width="6.2" height="6.2" fill="#00c000"/>
<rect x="490.6" y="581.31" width="6.2" height="6.2" fill="#00c000"/>
<line x1="417.8" y1="639.37" x2="417.8" y2="648.99" stroke="#303030" stroke-width="1"/>
<line x1="414.8" y1="639.37" x2="420.8" y2="639.37" stroke="#303030" stroke-width="1.2"/>
<line x1="414.8" y1="648.99" x2="420.8" y2="648.99" stroke="#303030" stroke-width="1.2"/>
<line x1="443.1" y1="634.65" x2="443.1" y2="640.42" stroke="#303030" stroke-width="1"/>
<line x1="440.1" y1="634.65" x2="446.1" y2="634.65" stroke="#303030" stroke-width="1.2"/>
<line x1="440.1" y1="640.42" x2="446.1" y2="640.42" stroke="#303030" stroke-width="1.2"/>
<line x1="468.4" y1="628.39" x2="468.4" y2="636.09" stroke="#303030" stroke-width="1"/>
<line x1="465.4" y1="628.39" x2="471.4" y2="628.39" stroke="#303030" stroke-width="1.2"/>
<line x1="465.4" y1="636.09" x2="471.4" y2="636.09" stroke="#303030" stroke-width="1.2"/>
<line x1="493.7" y1="619.54" x2="493.7" y2="629.16" stroke="#303030" stroke-width="1"/>
<line x1="490.7" y1="619.54" x2="496.7" y2="619.54" stroke="#303030" stroke-width="1.2"/>
<line x1="490.7" y1="629.16" x2="496.7" y2="629.16" stroke="#303030" stroke-width="1.2"/>
<polyline points="392.5,654.67 417.8,644.18 443.1,637.54 468.4,632.24 493.7,624.35" fill="none" stroke="#0000c8" stroke-width="1.6"/>
<rect x="389.4" y="651.57" width="6.2" height="6.2" fill="#0000c8"/>
<rect x="414.7" y="641.08" width="6.2" height="6.2" fill="#0000c8"/>
<rect x="440" y="634.44" width="6.2" height="6.2" fill="#0000c8"/>
<rect x="465.3" y="629.14" width="6.2" height="6.2" fill="#0000c8"/>
<rect x="490.6" y="621.25" width="6.2" height="6.2" fill="#0000c8"/>
<line x1="417.8" y1="639.65" x2="417.8" y2="647.35" stroke="#303030" stroke-width="1"/>
<line x1="414.8" y1="639.65" x2="420.8" y2="639.65" stroke="#303030" stroke-width="1.2"/>
<line x1="414.8" y1="647.35" x2="420.8" y2="647.35" stroke="#303030" stroke-width="1.2"/>
<line x1="443.1" y1="633.3" x2="443.1" y2="639.08" stroke="#303030" stroke-width="1"/>
<line x1="440.1" y1="633.3" x2="446.1" y2="633.3" stroke="#303030" stroke-width="1.2"/>
<line x1="440.1" y1="639.08" x2="446.1" y2="639.08" stroke="#303030" stroke-width="1.2"/>
<line x1="468.4" y1="627.82" x2="468.4" y2="635.52" stroke="#303030" stroke-width="1"/>
<line x1="465.4" y1="627.82" x2="471.4" y2="627.82" stroke="#303030" stroke-width="1.2"/>
<line x1="465.4" y1="635.52" x2="471.4" y2="635.52" stroke="#303030" stroke-width="1.2"/>
<line x1="493.7" y1="609.43" x2="493.7" y2="628.68" stroke="#303030" stroke-width="1"/>
<line x1="490.7" y1="609.43" x2="496.7" y2="609.43" stroke="#303030" stroke-width="1.2"/>
<line x1="490.7" y1="628.68" x2="496.7" y2="628.68" stroke="#303030" stroke-width="1.2"/>
<polyline points="392.5,654.67 417.8,643.5 443.1,636.19 468.4,631.67 493.7,619.06" fill="none" stroke="#ff8000" stroke-width="1.3" stroke-dasharray="2.2,1.6"/>
<rect x="389.4" y="651.57" width="6.2" height="6.2" fill="#ff8000"/>
<rect x="414.7" y="640.4" width="6.2" height="6.2" fill="#ff8000"/>
<rect x="440" y="633.09" width="6.2" height="6.2" fill="#ff8000"/>
<rect x="465.3" y="628.57" width="6.2" height="6.2" fill="#ff8000"/>
<rect x="490.6" y="615.96" width="6.2" height="6.2" fill="#ff8000"/>
<line x1="504" y1="585.3" x2="504" y2="607.4" stroke="#555" stroke-width="1.2"/>
<text x="506.5" y="601.6" font-size="9.6" font-weight="bold" text-anchor="middle" fill="#222" transform="rotate(90 506.5 601.6)">***</text>
<line x1="543.8" y1="522.7" x2="543.8" y2="667.7" stroke="#1a1a1a" stroke-width="1.6"/>
<line x1="539.8" y1="667" x2="543.8" y2="667" stroke="#1a1a1a" stroke-width="1.3"/>
<text x="539.7" y="672.8" font-size="8.3" font-weight="bold" text-anchor="end" fill="#111" letter-spacing="-0.35">0</text>
<line x1="539.8" y1="647.76" x2="543.8" y2="647.76" stroke="#1a1a1a" stroke-width="1.3"/>
<text x="539.7" y="653.56" font-size="8.3" font-weight="bold" text-anchor="end" fill="#111" letter-spacing="-0.35">200</text>
<line x1="539.8" y1="628.52" x2="543.8" y2="628.52" stroke="#1a1a1a" stroke-width="1.3"/>
<text x="539.7" y="634.32" font-size="8.3" font-weight="bold" text-anchor="end" fill="#111" letter-spacing="-0.35">400</text>
<line x1="539.8" y1="609.28" x2="543.8" y2="609.28" stroke="#1a1a1a" stroke-width="1.3"/>
<text x="539.7" y="615.08" font-size="8.3" font-weight="bold" text-anchor="end" fill="#111" letter-spacing="-0.35">600</text>
<line x1="539.8" y1="590.04" x2="543.8" y2="590.04" stroke="#1a1a1a" stroke-width="1.3"/>
<text x="539.7" y="595.84" font-size="8.3" font-weight="bold" text-anchor="end" fill="#111" letter-spacing="-0.35">800</text>
<line x1="539.8" y1="570.8" x2="543.8" y2="570.8" stroke="#1a1a1a" stroke-width="1.3"/>
<text x="539.7" y="576.6" font-size="8.3" font-weight="bold" text-anchor="end" fill="#111" letter-spacing="-0.35">1000</text>
<line x1="539.8" y1="551.56" x2="543.8" y2="551.56" stroke="#1a1a1a" stroke-width="1.3"/>
<text x="539.7" y="557.36" font-size="8.3" font-weight="bold" text-anchor="end" fill="#111" letter-spacing="-0.35">1200</text>
<line x1="539.8" y1="532.32" x2="543.8" y2="532.32" stroke="#1a1a1a" stroke-width="1.3"/>
<text x="539.7" y="538.12" font-size="8.3" font-weight="bold" text-anchor="end" fill="#111" letter-spacing="-0.35">1400</text>
<line x1="543.1" y1="667" x2="678.4" y2="667" stroke="#1a1a1a" stroke-width="1.6"/>
<line x1="561" y1="667" x2="561" y2="670.8" stroke="#1a1a1a" stroke-width="1.3"/>
<text x="563.56" y="672.4" font-size="7.1" font-weight="bold" text-anchor="end" fill="#111" transform="rotate(-90 563.56 672.4)">5</text>
<line x1="586.08" y1="667" x2="586.08" y2="670.8" stroke="#1a1a1a" stroke-width="1.3"/>
<text x="587.94" y="672.4" font-size="7.1" font-weight="bold" text-anchor="end" fill="#111" transform="rotate(-90 587.94 672.4)">10</text>
<line x1="611.16" y1="667" x2="611.16" y2="670.8" stroke="#1a1a1a" stroke-width="1.3"/>
<text x="613.02" y="672.4" font-size="7.1" font-weight="bold" text-anchor="end" fill="#111" transform="rotate(-90 613.02 672.4)">15</text>
<line x1="636.24" y1="667" x2="636.24" y2="670.8" stroke="#1a1a1a" stroke-width="1.3"/>
<text x="638.1" y="672.4" font-size="7.1" font-weight="bold" text-anchor="end" fill="#111" transform="rotate(-90 638.1 672.4)">20</text>
<line x1="661.32" y1="667" x2="661.32" y2="670.8" stroke="#1a1a1a" stroke-width="1.3"/>
<text x="663.18" y="672.4" font-size="7.1" font-weight="bold" text-anchor="end" fill="#111" transform="rotate(-90 663.18 672.4)">25</text>
<text x="610.16" y="690.3" font-size="7.5" font-weight="bold" text-anchor="middle" fill="#111">Number on treatment days</text>
<text x="603.4" y="520" font-size="10.5" text-anchor="middle" fill="#111">Combination</text>
<line x1="586.08" y1="631.31" x2="586.08" y2="640.93" stroke="#00c000" stroke-width="1"/>
<line x1="583.08" y1="631.31" x2="589.08" y2="631.31" stroke="#00c000" stroke-width="1.2"/>
<line x1="583.08" y1="640.93" x2="589.08" y2="640.93" stroke="#00c000" stroke-width="1.2"/>
<line x1="611.16" y1="615.53" x2="611.16" y2="625.15" stroke="#00c000" stroke-width="1"/>
<line x1="608.16" y1="615.53" x2="614.16" y2="615.53" stroke="#00c000" stroke-width="1.2"/>
<line x1="608.16" y1="625.15" x2="614.16" y2="625.15" stroke="#00c000" stroke-width="1.2"/>
<line x1="636.24" y1="600.24" x2="636.24" y2="609.86" stroke="#00c000" stroke-width="1"/>
<line x1="633.24" y1="600.24" x2="639.24" y2="600.24" stroke="#00c000" stroke-width="1.2"/>
<line x1="633.24" y1="609.86" x2="639.24" y2="609.86" stroke="#00c000" stroke-width="1.2"/>
<line x1="661.32" y1="581" x2="661.32" y2="590.62" stroke="#00c000" stroke-width="1"/>
<line x1="658.32" y1="581" x2="664.32" y2="581" stroke="#00c000" stroke-width="1.2"/>
<line x1="658.32" y1="590.62" x2="664.32" y2="590.62" stroke="#00c000" stroke-width="1.2"/>
<polyline points="561,654.49 586.08,636.12 611.16,620.34 636.24,605.05 661.32,585.81" fill="none" stroke="#00c000" stroke-width="1.3"/>
<rect x="557.9" y="651.39" width="6.2" height="6.2" fill="#00c000"/>
<rect x="582.98" y="633.02" width="6.2" height="6.2" fill="#00c000"/>
<rect x="608.06" y="617.24" width="6.2" height="6.2" fill="#00c000"/>
<rect x="633.14" y="601.95" width="6.2" height="6.2" fill="#00c000"/>
<rect x="658.22" y="582.71" width="6.2" height="6.2" fill="#00c000"/>
<line x1="586.08" y1="647.86" x2="586.08" y2="653.63" stroke="#303030" stroke-width="1"/>
<line x1="583.08" y1="647.86" x2="589.08" y2="647.86" stroke="#303030" stroke-width="1.2"/>
<line x1="583.08" y1="653.63" x2="589.08" y2="653.63" stroke="#303030" stroke-width="1.2"/>
<line x1="611.16" y1="643.91" x2="611.16" y2="651.61" stroke="#303030" stroke-width="1"/>
<line x1="608.16" y1="643.91" x2="614.16" y2="643.91" stroke="#303030" stroke-width="1.2"/>
<line x1="608.16" y1="651.61" x2="614.16" y2="651.61" stroke="#303030" stroke-width="1.2"/>
<line x1="636.24" y1="639.58" x2="636.24" y2="649.2" stroke="#303030" stroke-width="1"/>
<line x1="633.24" y1="639.58" x2="639.24" y2="639.58" stroke="#303030" stroke-width="1.2"/>
<line x1="633.24" y1="649.2" x2="639.24" y2="649.2" stroke="#303030" stroke-width="1.2"/>
<line x1="661.32" y1="637.47" x2="661.32" y2="647.09" stroke="#303030" stroke-width="1"/>
<line x1="658.32" y1="637.47" x2="664.32" y2="637.47" stroke="#303030" stroke-width="1.2"/>
<line x1="658.32" y1="647.09" x2="664.32" y2="647.09" stroke="#303030" stroke-width="1.2"/>
<polyline points="561,654.49 586.08,650.74 611.16,647.76 636.24,644.39 661.32,642.28" fill="none" stroke="#0000c8" stroke-width="1.6"/>
<rect x="557.9" y="651.39" width="6.2" height="6.2" fill="#0000c8"/>
<rect x="582.98" y="647.64" width="6.2" height="6.2" fill="#0000c8"/>
<rect x="608.06" y="644.66" width="6.2" height="6.2" fill="#0000c8"/>
<rect x="633.14" y="641.29" width="6.2" height="6.2" fill="#0000c8"/>
<rect x="658.22" y="639.18" width="6.2" height="6.2" fill="#0000c8"/>
<line x1="586.08" y1="649.4" x2="586.08" y2="655.17" stroke="#303030" stroke-width="1"/>
<line x1="583.08" y1="649.4" x2="589.08" y2="649.4" stroke="#303030" stroke-width="1.2"/>
<line x1="583.08" y1="655.17" x2="589.08" y2="655.17" stroke="#303030" stroke-width="1.2"/>
<line x1="611.16" y1="643.43" x2="611.16" y2="653.05" stroke="#303030" stroke-width="1"/>
<line x1="608.16" y1="643.43" x2="614.16" y2="643.43" stroke="#303030" stroke-width="1.2"/>
<line x1="608.16" y1="653.05" x2="614.16" y2="653.05" stroke="#303030" stroke-width="1.2"/>
<line x1="636.24" y1="638.62" x2="636.24" y2="650.16" stroke="#303030" stroke-width="1"/>
<line x1="633.24" y1="638.62" x2="639.24" y2="638.62" stroke="#303030" stroke-width="1.2"/>
<line x1="633.24" y1="650.16" x2="639.24" y2="650.16" stroke="#303030" stroke-width="1.2"/>
<line x1="661.32" y1="636.22" x2="661.32" y2="645.84" stroke="#303030" stroke-width="1"/>
<line x1="658.32" y1="636.22" x2="664.32" y2="636.22" stroke="#303030" stroke-width="1.2"/>
<line x1="658.32" y1="645.84" x2="664.32" y2="645.84" stroke="#303030" stroke-width="1.2"/>
<polyline points="561,654.49 586.08,652.28 611.16,648.24 636.24,644.39 661.32,641.03" fill="none" stroke="#ff8000" stroke-width="1.3" stroke-dasharray="2.2,1.6"/>
<rect x="557.9" y="651.39" width="6.2" height="6.2" fill="#ff8000"/>
<rect x="582.98" y="649.18" width="6.2" height="6.2" fill="#ff8000"/>
<rect x="608.06" y="645.14" width="6.2" height="6.2" fill="#ff8000"/>
<rect x="633.14" y="641.29" width="6.2" height="6.2" fill="#ff8000"/>
<rect x="658.22" y="637.93" width="6.2" height="6.2" fill="#ff8000"/>
<line x1="672.4" y1="587.1" x2="672.4" y2="636.8" stroke="#555" stroke-width="1.2"/>
<text x="674.9" y="612.8" font-size="9.6" font-weight="bold" text-anchor="middle" fill="#222" transform="rotate(90 674.9 612.8)">***</text>
<rect x="212.7" y="701.3" width="9" height="8.8" fill="#f04040" stroke="#333" stroke-width="0.7"/>
<text x="232.9" y="709.4" font-size="9.4" text-anchor="start" fill="#111">Control</text>
<rect x="280.7" y="701.3" width="9" height="8.8" fill="#0000c8" stroke="#333" stroke-width="0.7"/>
<text x="299.4" y="709.4" font-size="9.4" text-anchor="start" fill="#111">si-SCR</text>
<rect x="351.9" y="701.3" width="9" height="8.8" fill="#00c000" stroke="#333" stroke-width="0.7"/>
<text x="369.5" y="709.4" font-size="9.4" text-anchor="start" fill="#111">si-STING</text>
<text x="0" y="0" font-size="13.8" fill="#111" transform="translate(53.4 733.1) scale(1.1 1)">L</text>
<text x="0" y="0" font-size="13.8" fill="#111" transform="translate(241.2 734.5) scale(1.18 1)">M</text>
<text x="0" y="0" font-size="13.8" fill="#111" transform="translate(417.8 734.5) scale(1.2 1)">N</text>
<line x1="72" y1="740" x2="72" y2="883.4" stroke="#111" stroke-width="1.2"/>
<polygon points="70,741.5 72,737 74,741.5" fill="#111"/>
<text x="66.9" y="758.75" font-size="13" text-anchor="middle" fill="#111" transform="rotate(-90 66.9 758.75)">RPM</text>
<text x="65.8" y="823.9" font-size="9.7" text-anchor="middle" fill="#111" transform="rotate(-90 65.8 823.9)">% Cell Population</text>
<rect x="109.5" y="834.1" width="29" height="53.9" fill="none" stroke="#dcdcdc" stroke-width="0.7" stroke-dasharray="1.2,1.2"/>
<rect x="142.3" y="833.3" width="29.2" height="54.7" fill="none" stroke="#dcdcdc" stroke-width="0.7" stroke-dasharray="1.2,1.2"/>
<rect x="175.8" y="795.2" width="29" height="92.8" fill="none" stroke="#dcdcdc" stroke-width="0.7" stroke-dasharray="1.2,1.2"/>
<rect x="209" y="750.1" width="28.6" height="137.9" fill="none" stroke="#dcdcdc" stroke-width="0.7" stroke-dasharray="1.2,1.2"/>
<line x1="108.1" y1="747.9" x2="108.1" y2="889.9" stroke="#1a1a1a" stroke-width="1.6"/>
<line x1="102.3" y1="889.2" x2="108.1" y2="889.2" stroke="#1a1a1a" stroke-width="1.4"/>
<text x="99.7" y="892.6" font-size="9.6" font-weight="bold" text-anchor="end" fill="#111">0</text>
<line x1="102.3" y1="861.06" x2="108.1" y2="861.06" stroke="#1a1a1a" stroke-width="1.4"/>
<text x="99.7" y="864.46" font-size="9.6" font-weight="bold" text-anchor="end" fill="#111">10</text>
<line x1="102.3" y1="832.92" x2="108.1" y2="832.92" stroke="#1a1a1a" stroke-width="1.4"/>
<text x="99.7" y="836.32" font-size="9.6" font-weight="bold" text-anchor="end" fill="#111">20</text>
<line x1="102.3" y1="804.78" x2="108.1" y2="804.78" stroke="#1a1a1a" stroke-width="1.4"/>
<text x="99.7" y="808.18" font-size="9.6" font-weight="bold" text-anchor="end" fill="#111">30</text>
<line x1="102.3" y1="776.64" x2="108.1" y2="776.64" stroke="#1a1a1a" stroke-width="1.4"/>
<text x="99.7" y="780.04" font-size="9.6" font-weight="bold" text-anchor="end" fill="#111">40</text>
<line x1="102.3" y1="748.5" x2="108.1" y2="748.5" stroke="#1a1a1a" stroke-width="1.4"/>
<text x="99.7" y="751.9" font-size="9.6" font-weight="bold" text-anchor="end" fill="#111">50</text>
<line x1="102.3" y1="889.2" x2="240.8" y2="889.2" stroke="#1a1a1a" stroke-width="1.6"/>
<line x1="124" y1="889.2" x2="124" y2="895.3" stroke="#1a1a1a" stroke-width="1.3"/>
<line x1="156.8" y1="889.2" x2="156.8" y2="895.3" stroke="#1a1a1a" stroke-width="1.3"/>
<line x1="190" y1="889.2" x2="190" y2="895.3" stroke="#1a1a1a" stroke-width="1.3"/>
<line x1="223" y1="889.2" x2="223" y2="895.3" stroke="#1a1a1a" stroke-width="1.3"/>
<text x="125.2" y="907.5" font-size="10.3" font-weight="bold" text-anchor="end" fill="#111" transform="rotate(-45 125.2 907.5)">Vehicle</text>
<text x="159.1" y="905.1" font-size="10.3" font-weight="bold" text-anchor="end" fill="#111" transform="rotate(-45 159.1 905.1)">anti-PD-L1</text>
<text x="190.5" y="907" font-size="10.3" font-weight="bold" text-anchor="end" fill="#111" transform="rotate(-45 190.5 907)">NU</text>
<text x="225.2" y="905.9" font-size="10.3" font-weight="bold" text-anchor="end" fill="#111" transform="rotate(-45 225.2 905.9)">NU + Anti PD-L1</text>
<text x="177.8" y="743.8" font-size="10.3" text-anchor="middle" fill="#111">CD8</text>
<line x1="115.5" y1="871.4" x2="115.5" y2="879.9" stroke="#333" stroke-width="1.1"/>
<line x1="112.4" y1="871.4" x2="118.6" y2="871.4" stroke="#333" stroke-width="1.1"/>
<line x1="112.4" y1="879.9" x2="118.6" y2="879.9" stroke="#333" stroke-width="1.1"/>
<line x1="124.3" y1="869.3" x2="124.3" y2="877.1" stroke="#333" stroke-width="1.1"/>
<line x1="121.2" y1="869.3" x2="127.4" y2="869.3" stroke="#333" stroke-width="1.1"/>
<line x1="121.2" y1="877.1" x2="127.4" y2="877.1" stroke="#333" stroke-width="1.1"/>
<line x1="132.8" y1="870.1" x2="132.8" y2="880.3" stroke="#333" stroke-width="1.1"/>
<line x1="129.7" y1="870.1" x2="135.9" y2="870.1" stroke="#333" stroke-width="1.1"/>
<line x1="129.7" y1="880.3" x2="135.9" y2="880.3" stroke="#333" stroke-width="1.1"/>
<circle cx="115.5" cy="876.1" r="3.5" fill="#a2a2a6" stroke="#333" stroke-width="0.8"/>
<rect x="121.5" y="870.7" width="5.6" height="5.6" fill="#8484ff" stroke="#3a3a70" stroke-width="0.7"/>
<polygon points="129.2,879.1 132.8,872.5 136.4,879.1" fill="#f26f6f" stroke="#5a2a2a" stroke-width="0.7"/>
<text x="123.5" y="844.7" font-size="11.4" text-anchor="start" fill="#222" textLength="10.4" lengthAdjust="spacingAndGlyphs">ns</text>
<line x1="149.1" y1="872.5" x2="149.1" y2="879.2" stroke="#333" stroke-width="1.1"/>
<line x1="146" y1="872.5" x2="152.2" y2="872.5" stroke="#333" stroke-width="1.1"/>
<line x1="146" y1="879.2" x2="152.2" y2="879.2" stroke="#333" stroke-width="1.1"/>
<line x1="157.2" y1="871.4" x2="157.2" y2="879.9" stroke="#333" stroke-width="1.1"/>
<line x1="154.1" y1="871.4" x2="160.3" y2="871.4" stroke="#333" stroke-width="1.1"/>
<line x1="154.1" y1="879.9" x2="160.3" y2="879.9" stroke="#333" stroke-width="1.1"/>
<line x1="165.6" y1="871.8" x2="165.6" y2="882" stroke="#333" stroke-width="1.1"/>
<line x1="162.5" y1="871.8" x2="168.7" y2="871.8" stroke="#333" stroke-width="1.1"/>
<line x1="162.5" y1="882" x2="168.7" y2="882" stroke="#333" stroke-width="1.1"/>
<circle cx="149.1" cy="876.1" r="3.5" fill="#a2a2a6" stroke="#333" stroke-width="0.8"/>
<rect x="154.4" y="872.8" width="5.6" height="5.6" fill="#8484ff" stroke="#3a3a70" stroke-width="0.7"/>
<polygon points="162,880.5 165.6,873.9 169.2,880.5" fill="#f26f6f" stroke="#5a2a2a" stroke-width="0.7"/>
<text x="154.4" y="844.7" font-size="11.4" text-anchor="start" fill="#222" textLength="10.4" lengthAdjust="spacingAndGlyphs">ns</text>
<line x1="181.9" y1="823.1" x2="181.9" y2="828.9" stroke="#333" stroke-width="1.1"/>
<line x1="178.8" y1="823.1" x2="185" y2="823.1" stroke="#333" stroke-width="1.1"/>
<line x1="178.8" y1="828.9" x2="185" y2="828.9" stroke="#333" stroke-width="1.1"/>
<line x1="190.4" y1="820" x2="190.4" y2="832.2" stroke="#333" stroke-width="1.1"/>
<line x1="187.3" y1="820" x2="193.5" y2="820" stroke="#333" stroke-width="1.1"/>
<line x1="187.3" y1="832.2" x2="193.5" y2="832.2" stroke="#333" stroke-width="1.1"/>
<line x1="198.9" y1="863.4" x2="198.9" y2="875.4" stroke="#333" stroke-width="1.1"/>
<line x1="195.8" y1="863.4" x2="202" y2="863.4" stroke="#333" stroke-width="1.1"/>
<line x1="195.8" y1="875.4" x2="202" y2="875.4" stroke="#333" stroke-width="1.1"/>
<circle cx="181.9" cy="825.9" r="3.5" fill="#a2a2a6" stroke="#333" stroke-width="0.8"/>
<rect x="187.6" y="823.1" width="5.6" height="5.6" fill="#8484ff" stroke="#3a3a70" stroke-width="0.7"/>
<polygon points="195.3,872.7 198.9,866.1 202.5,872.7" fill="#f26f6f" stroke="#5a2a2a" stroke-width="0.7"/>
<text x="199.75" y="860.8" font-size="9.8" font-weight="bold" text-anchor="middle" fill="#222">***</text>
<line x1="214.9" y1="769.2" x2="214.9" y2="787.8" stroke="#333" stroke-width="1.1"/>
<line x1="211.8" y1="769.2" x2="218" y2="769.2" stroke="#333" stroke-width="1.1"/>
<line x1="211.8" y1="787.8" x2="218" y2="787.8" stroke="#333" stroke-width="1.1"/>
<line x1="223.4" y1="764.3" x2="223.4" y2="784" stroke="#333" stroke-width="1.1"/>
<line x1="220.3" y1="764.3" x2="226.5" y2="764.3" stroke="#333" stroke-width="1.1"/>
<line x1="220.3" y1="784" x2="226.5" y2="784" stroke="#333" stroke-width="1.1"/>
<line x1="231.9" y1="850.2" x2="231.9" y2="863.4" stroke="#333" stroke-width="1.1"/>
<line x1="228.8" y1="850.2" x2="235" y2="850.2" stroke="#333" stroke-width="1.1"/>
<line x1="228.8" y1="863.4" x2="235" y2="863.4" stroke="#333" stroke-width="1.1"/>
<circle cx="214.9" cy="778.7" r="3.5" fill="#a2a2a6" stroke="#333" stroke-width="0.8"/>
<rect x="220.6" y="771.7" width="5.6" height="5.6" fill="#8484ff" stroke="#3a3a70" stroke-width="0.7"/>
<polygon points="228.3,860 231.9,853.4 235.5,860" fill="#f26f6f" stroke="#5a2a2a" stroke-width="0.7"/>
<text x="231.8" y="848.1" font-size="9.8" font-weight="bold" text-anchor="middle" fill="#222">***</text>
<rect x="268" y="837.3" width="27.2" height="52" fill="none" stroke="#dcdcdc" stroke-width="0.7" stroke-dasharray="1.2,1.2"/>
<rect x="299.5" y="835.1" width="28.2" height="54.2" fill="none" stroke="#dcdcdc" stroke-width="0.7" stroke-dasharray="1.2,1.2"/>
<rect x="332.1" y="798.3" width="28.1" height="91" fill="none" stroke="#dcdcdc" stroke-width="0.7" stroke-dasharray="1.2,1.2"/>
<rect x="364.6" y="753.2" width="28.2" height="136.1" fill="none" stroke="#dcdcdc" stroke-width="0.7" stroke-dasharray="1.2,1.2"/>
<line x1="265.8" y1="751.9" x2="265.8" y2="891.2" stroke="#1a1a1a" stroke-width="1.6"/>
<line x1="260" y1="890.5" x2="265.8" y2="890.5" stroke="#1a1a1a" stroke-width="1.4"/>
<text x="257.4" y="893.9" font-size="9.6" font-weight="bold" text-anchor="end" fill="#111">0</text>
<line x1="260" y1="844.5" x2="265.8" y2="844.5" stroke="#1a1a1a" stroke-width="1.4"/>
<text x="257.4" y="847.9" font-size="9.6" font-weight="bold" text-anchor="end" fill="#111">10</text>
<line x1="260" y1="798.5" x2="265.8" y2="798.5" stroke="#1a1a1a" stroke-width="1.4"/>
<text x="257.4" y="801.9" font-size="9.6" font-weight="bold" text-anchor="end" fill="#111">20</text>
<line x1="260" y1="752.5" x2="265.8" y2="752.5" stroke="#1a1a1a" stroke-width="1.4"/>
<text x="257.4" y="755.9" font-size="9.6" font-weight="bold" text-anchor="end" fill="#111">30</text>
<line x1="260" y1="890.5" x2="395.2" y2="890.5" stroke="#1a1a1a" stroke-width="1.6"/>
<line x1="280.8" y1="890.5" x2="280.8" y2="896.6" stroke="#1a1a1a" stroke-width="1.3"/>
<line x1="313.3" y1="890.5" x2="313.3" y2="896.6" stroke="#1a1a1a" stroke-width="1.3"/>
<line x1="345.8" y1="890.5" x2="345.8" y2="896.6" stroke="#1a1a1a" stroke-width="1.3"/>
<line x1="378.3" y1="890.5" x2="378.3" y2="896.6" stroke="#1a1a1a" stroke-width="1.3"/>
<text x="282.1" y="907.5" font-size="10.3" font-weight="bold" text-anchor="end" fill="#111" transform="rotate(-45 282.1 907.5)">Vehicle</text>
<text x="316" y="905.7" font-size="10.3" font-weight="bold" text-anchor="end" fill="#111" transform="rotate(-45 316 905.7)">anti-PD-L1</text>
<text x="346.9" y="907.3" font-size="10.3" font-weight="bold" text-anchor="end" fill="#111" transform="rotate(-45 346.9 907.3)">NU</text>
<text x="380.9" y="905.9" font-size="10.3" font-weight="bold" text-anchor="end" fill="#111" transform="rotate(-45 380.9 905.9)">NU + Anti PD-L1</text>
<text x="335.8" y="743.4" font-size="10.7" text-anchor="middle" fill="#111">MHC-1</text>
<line x1="272.8" y1="870.5" x2="272.8" y2="879" stroke="#333" stroke-width="1.1"/>
<line x1="269.7" y1="870.5" x2="275.9" y2="870.5" stroke="#333" stroke-width="1.1"/>
<line x1="269.7" y1="879" x2="275.9" y2="879" stroke="#333" stroke-width="1.1"/>
<line x1="281.2" y1="868.6" x2="281.2" y2="881.4" stroke="#333" stroke-width="1.1"/>
<line x1="278.1" y1="868.6" x2="284.3" y2="868.6" stroke="#333" stroke-width="1.1"/>
<line x1="278.1" y1="881.4" x2="284.3" y2="881.4" stroke="#333" stroke-width="1.1"/>
<line x1="289.9" y1="868.6" x2="289.9" y2="879.7" stroke="#333" stroke-width="1.1"/>
<line x1="286.8" y1="868.6" x2="293" y2="868.6" stroke="#333" stroke-width="1.1"/>
<line x1="286.8" y1="879.7" x2="293" y2="879.7" stroke="#333" stroke-width="1.1"/>
<circle cx="272.8" cy="874.6" r="3.5" fill="#a2a2a6" stroke="#333" stroke-width="0.8"/>
<rect x="278.4" y="872.1" width="5.6" height="5.6" fill="#8484ff" stroke="#3a3a70" stroke-width="0.7"/>
<polygon points="286.3,877.1 289.9,870.5 293.5,877.1" fill="#f26f6f" stroke="#5a2a2a" stroke-width="0.7"/>
<text x="283.7" y="865" font-size="11.4" text-anchor="start" fill="#222" textLength="10.4" lengthAdjust="spacingAndGlyphs">ns</text>
<line x1="305.3" y1="871" x2="305.3" y2="877.8" stroke="#333" stroke-width="1.1"/>
<line x1="302.2" y1="871" x2="308.4" y2="871" stroke="#333" stroke-width="1.1"/>
<line x1="302.2" y1="877.8" x2="308.4" y2="877.8" stroke="#333" stroke-width="1.1"/>
<line x1="313.8" y1="867.4" x2="313.8" y2="880.9" stroke="#333" stroke-width="1.1"/>
<line x1="310.7" y1="867.4" x2="316.9" y2="867.4" stroke="#333" stroke-width="1.1"/>
<line x1="310.7" y1="880.9" x2="316.9" y2="880.9" stroke="#333" stroke-width="1.1"/>
<line x1="322.2" y1="869.8" x2="322.2" y2="879" stroke="#333" stroke-width="1.1"/>
<line x1="319.1" y1="869.8" x2="325.3" y2="869.8" stroke="#333" stroke-width="1.1"/>
<line x1="319.1" y1="879" x2="325.3" y2="879" stroke="#333" stroke-width="1.1"/>
<circle cx="305.3" cy="874.1" r="3.5" fill="#a2a2a6" stroke="#333" stroke-width="0.8"/>
<rect x="311" y="870.9" width="5.6" height="5.6" fill="#8484ff" stroke="#3a3a70" stroke-width="0.7"/>
<polygon points="318.6,877.6 322.2,871 325.8,877.6" fill="#f26f6f" stroke="#5a2a2a" stroke-width="0.7"/>
<text x="315" y="865" font-size="11.4" text-anchor="start" fill="#222" textLength="10.4" lengthAdjust="spacingAndGlyphs">ns</text>
<line x1="337.8" y1="804.3" x2="337.8" y2="821.2" stroke="#333" stroke-width="1.1"/>
<line x1="334.7" y1="804.3" x2="340.9" y2="804.3" stroke="#333" stroke-width="1.1"/>
<line x1="334.7" y1="821.2" x2="340.9" y2="821.2" stroke="#333" stroke-width="1.1"/>
<line x1="345.8" y1="805.5" x2="345.8" y2="823.1" stroke="#333" stroke-width="1.1"/>
<line x1="342.7" y1="805.5" x2="348.9" y2="805.5" stroke="#333" stroke-width="1.1"/>
<line x1="342.7" y1="823.1" x2="348.9" y2="823.1" stroke="#333" stroke-width="1.1"/>
<line x1="354.7" y1="859.2" x2="354.7" y2="871" stroke="#333" stroke-width="1.1"/>
<line x1="351.6" y1="859.2" x2="357.8" y2="859.2" stroke="#333" stroke-width="1.1"/>
<line x1="351.6" y1="871" x2="357.8" y2="871" stroke="#333" stroke-width="1.1"/>
<circle cx="337.8" cy="812.7" r="3.5" fill="#a2a2a6" stroke="#333" stroke-width="0.8"/>
<rect x="343" y="811.6" width="5.6" height="5.6" fill="#8484ff" stroke="#3a3a70" stroke-width="0.7"/>
<polygon points="351.1,868 354.7,861.4 358.3,868" fill="#f26f6f" stroke="#5a2a2a" stroke-width="0.7"/>
<text x="354.7" y="859.8" font-size="9.8" font-weight="bold" text-anchor="middle" fill="#222">**</text>
<line x1="370.4" y1="763.4" x2="370.4" y2="783.8" stroke="#333" stroke-width="1.1"/>
<line x1="367.3" y1="763.4" x2="373.5" y2="763.4" stroke="#333" stroke-width="1.1"/>
<line x1="367.3" y1="783.8" x2="373.5" y2="783.8" stroke="#333" stroke-width="1.1"/>
<line x1="378.8" y1="767" x2="378.8" y2="784.3" stroke="#333" stroke-width="1.1"/>
<line x1="375.7" y1="767" x2="381.9" y2="767" stroke="#333" stroke-width="1.1"/>
<line x1="375.7" y1="784.3" x2="381.9" y2="784.3" stroke="#333" stroke-width="1.1"/>
<line x1="386.7" y1="837.3" x2="386.7" y2="847.6" stroke="#333" stroke-width="1.1"/>
<line x1="383.6" y1="837.3" x2="389.8" y2="837.3" stroke="#333" stroke-width="1.1"/>
<line x1="383.6" y1="847.6" x2="389.8" y2="847.6" stroke="#333" stroke-width="1.1"/>
<circle cx="370.4" cy="773.5" r="3.5" fill="#a2a2a6" stroke="#333" stroke-width="0.8"/>
<rect x="376" y="772.6" width="5.6" height="5.6" fill="#8484ff" stroke="#3a3a70" stroke-width="0.7"/>
<polygon points="383.1,845.8 386.7,839.2 390.3,845.8" fill="#f26f6f" stroke="#5a2a2a" stroke-width="0.7"/>
<text x="386.7" y="835.7" font-size="9.8" font-weight="bold" text-anchor="middle" fill="#222">***</text>
<rect x="431.5" y="835.6" width="28.9" height="54" fill="none" stroke="#dcdcdc" stroke-width="0.7" stroke-dasharray="1.2,1.2"/>
<rect x="464.4" y="834.3" width="28.6" height="55.3" fill="none" stroke="#dcdcdc" stroke-width="0.7" stroke-dasharray="1.2,1.2"/>
<rect x="496.9" y="797.5" width="28.9" height="92.1" fill="none" stroke="#dcdcdc" stroke-width="0.7" stroke-dasharray="1.2,1.2"/>
<rect x="529.3" y="752.3" width="29.4" height="137.3" fill="none" stroke="#dcdcdc" stroke-width="0.7" stroke-dasharray="1.2,1.2"/>
<line x1="430.2" y1="751" x2="430.2" y2="891.5" stroke="#1a1a1a" stroke-width="1.6"/>
<line x1="424.4" y1="890.8" x2="430.2" y2="890.8" stroke="#1a1a1a" stroke-width="1.4"/>
<text x="421.8" y="894.2" font-size="9.6" font-weight="bold" text-anchor="end" fill="#111">0</text>
<line x1="424.4" y1="844.4" x2="430.2" y2="844.4" stroke="#1a1a1a" stroke-width="1.4"/>
<text x="421.8" y="847.8" font-size="9.6" font-weight="bold" text-anchor="end" fill="#111">10</text>
<line x1="424.4" y1="798" x2="430.2" y2="798" stroke="#1a1a1a" stroke-width="1.4"/>
<text x="421.8" y="801.4" font-size="9.6" font-weight="bold" text-anchor="end" fill="#111">20</text>
<line x1="424.4" y1="751.6" x2="430.2" y2="751.6" stroke="#1a1a1a" stroke-width="1.4"/>
<text x="421.8" y="755" font-size="9.6" font-weight="bold" text-anchor="end" fill="#111">30</text>
<line x1="424.4" y1="890.8" x2="560.8" y2="890.8" stroke="#1a1a1a" stroke-width="1.6"/>
<line x1="445.2" y1="890.8" x2="445.2" y2="896.9" stroke="#1a1a1a" stroke-width="1.3"/>
<line x1="478" y1="890.8" x2="478" y2="896.9" stroke="#1a1a1a" stroke-width="1.3"/>
<line x1="510.9" y1="890.8" x2="510.9" y2="896.9" stroke="#1a1a1a" stroke-width="1.3"/>
<line x1="543.7" y1="890.8" x2="543.7" y2="896.9" stroke="#1a1a1a" stroke-width="1.3"/>
<text x="446.2" y="908.4" font-size="10.3" font-weight="bold" text-anchor="end" fill="#111" transform="rotate(-45 446.2 908.4)">Vehicle</text>
<text x="480.9" y="906.5" font-size="10.3" font-weight="bold" text-anchor="end" fill="#111" transform="rotate(-45 480.9 906.5)">anti-PD-L1</text>
<text x="512" y="908.4" font-size="10.3" font-weight="bold" text-anchor="end" fill="#111" transform="rotate(-45 512 908.4)">NU</text>
<text x="545.5" y="906.3" font-size="10.3" font-weight="bold" text-anchor="end" fill="#111" transform="rotate(-45 545.5 906.3)">NU + Anti PD-L1</text>
<text x="501.4" y="743.1" font-size="10.7" text-anchor="middle" fill="#111">M1 Macrophages</text>
<line x1="437.3" y1="863.7" x2="437.3" y2="876.3" stroke="#333" stroke-width="1.1"/>
<line x1="434.2" y1="863.7" x2="440.4" y2="863.7" stroke="#333" stroke-width="1.1"/>
<line x1="434.2" y1="876.3" x2="440.4" y2="876.3" stroke="#333" stroke-width="1.1"/>
<line x1="445.7" y1="861.1" x2="445.7" y2="871.9" stroke="#333" stroke-width="1.1"/>
<line x1="442.6" y1="861.1" x2="448.8" y2="861.1" stroke="#333" stroke-width="1.1"/>
<line x1="442.6" y1="871.9" x2="448.8" y2="871.9" stroke="#333" stroke-width="1.1"/>
<line x1="454.4" y1="860.6" x2="454.4" y2="874.2" stroke="#333" stroke-width="1.1"/>
<line x1="451.3" y1="860.6" x2="457.5" y2="860.6" stroke="#333" stroke-width="1.1"/>
<line x1="451.3" y1="874.2" x2="457.5" y2="874.2" stroke="#333" stroke-width="1.1"/>
<circle cx="437.3" cy="870.3" r="3.5" fill="#a2a2a6" stroke="#333" stroke-width="0.8"/>
<rect x="442.9" y="863.5" width="5.6" height="5.6" fill="#8484ff" stroke="#3a3a70" stroke-width="0.7"/>
<polygon points="450.8,870.9 454.4,864.3 458,870.9" fill="#f26f6f" stroke="#5a2a2a" stroke-width="0.7"/>
<text x="448.1" y="850.6" font-size="11.4" text-anchor="start" fill="#222" textLength="10.4" lengthAdjust="spacingAndGlyphs">ns</text>
<line x1="470.1" y1="865" x2="470.1" y2="877.6" stroke="#333" stroke-width="1.1"/>
<line x1="467" y1="865" x2="473.2" y2="865" stroke="#333" stroke-width="1.1"/>
<line x1="467" y1="877.6" x2="473.2" y2="877.6" stroke="#333" stroke-width="1.1"/>
<line x1="478.5" y1="865.8" x2="478.5" y2="877.6" stroke="#333" stroke-width="1.1"/>
<line x1="475.4" y1="865.8" x2="481.6" y2="865.8" stroke="#333" stroke-width="1.1"/>
<line x1="475.4" y1="877.6" x2="481.6" y2="877.6" stroke="#333" stroke-width="1.1"/>
<line x1="487.2" y1="865.3" x2="487.2" y2="877.1" stroke="#333" stroke-width="1.1"/>
<line x1="484.1" y1="865.3" x2="490.3" y2="865.3" stroke="#333" stroke-width="1.1"/>
<line x1="484.1" y1="877.1" x2="490.3" y2="877.1" stroke="#333" stroke-width="1.1"/>
<circle cx="470.1" cy="871.6" r="3.5" fill="#a2a2a6" stroke="#333" stroke-width="0.8"/>
<rect x="475.7" y="868.8" width="5.6" height="5.6" fill="#8484ff" stroke="#3a3a70" stroke-width="0.7"/>
<polygon points="483.6,874.6 487.2,868 490.8,874.6" fill="#f26f6f" stroke="#5a2a2a" stroke-width="0.7"/>
<text x="478.6" y="850.6" font-size="11.4" text-anchor="start" fill="#222" textLength="10.4" lengthAdjust="spacingAndGlyphs">ns</text>
<line x1="503" y1="823.3" x2="503" y2="828.2" stroke="#333" stroke-width="1.1"/>
<line x1="499.9" y1="823.3" x2="506.1" y2="823.3" stroke="#333" stroke-width="1.1"/>
<line x1="499.9" y1="828.2" x2="506.1" y2="828.2" stroke="#333" stroke-width="1.1"/>
<line x1="511.4" y1="825.1" x2="511.4" y2="830.4" stroke="#333" stroke-width="1.1"/>
<line x1="508.3" y1="825.1" x2="514.5" y2="825.1" stroke="#333" stroke-width="1.1"/>
<line x1="508.3" y1="830.4" x2="514.5" y2="830.4" stroke="#333" stroke-width="1.1"/>
<line x1="519.5" y1="857.2" x2="519.5" y2="867.7" stroke="#333" stroke-width="1.1"/>
<line x1="516.4" y1="857.2" x2="522.6" y2="857.2" stroke="#333" stroke-width="1.1"/>
<line x1="516.4" y1="867.7" x2="522.6" y2="867.7" stroke="#333" stroke-width="1.1"/>
<circle cx="503" cy="825.9" r="3.5" fill="#a2a2a6" stroke="#333" stroke-width="0.8"/>
<rect x="508.6" y="824.9" width="5.6" height="5.6" fill="#8484ff" stroke="#3a3a70" stroke-width="0.7"/>
<polygon points="515.9,865.7 519.5,859.1 523.1,865.7" fill="#f26f6f" stroke="#5a2a2a" stroke-width="0.7"/>
<text x="519.5" y="854.4" font-size="9.8" font-weight="bold" text-anchor="middle" fill="#222">***</text>
<line x1="535.8" y1="771.2" x2="535.8" y2="787.5" stroke="#333" stroke-width="1.1"/>
<line x1="532.7" y1="771.2" x2="538.9" y2="771.2" stroke="#333" stroke-width="1.1"/>
<line x1="532.7" y1="787.5" x2="538.9" y2="787.5" stroke="#333" stroke-width="1.1"/>
<line x1="544.5" y1="769.4" x2="544.5" y2="785.2" stroke="#333" stroke-width="1.1"/>
<line x1="541.4" y1="769.4" x2="547.6" y2="769.4" stroke="#333" stroke-width="1.1"/>
<line x1="541.4" y1="785.2" x2="547.6" y2="785.2" stroke="#333" stroke-width="1.1"/>
<line x1="552.9" y1="827.7" x2="552.9" y2="840.3" stroke="#333" stroke-width="1.1"/>
<line x1="549.8" y1="827.7" x2="556" y2="827.7" stroke="#333" stroke-width="1.1"/>
<line x1="549.8" y1="840.3" x2="556" y2="840.3" stroke="#333" stroke-width="1.1"/>
<circle cx="535.8" cy="779.1" r="3.5" fill="#a2a2a6" stroke="#333" stroke-width="0.8"/>
<rect x="541.7" y="774.2" width="5.6" height="5.6" fill="#8484ff" stroke="#3a3a70" stroke-width="0.7"/>
<polygon points="549.3,836.8 552.9,830.2 556.5,836.8" fill="#f26f6f" stroke="#5a2a2a" stroke-width="0.7"/>
<text x="552.9" y="822.6" font-size="9.8" font-weight="bold" text-anchor="middle" fill="#222">***</text>
<circle cx="588.9" cy="796.7" r="4.1" fill="#8e8e8e" stroke="#444" stroke-width="0.8"/>
<text x="596.6" y="800.3" font-size="9.4" text-anchor="start" fill="#111">Control</text>
<rect x="584.6" y="815.5" width="8.7" height="8.7" fill="#8080ff" stroke="#444" stroke-width="0.7"/>
<text x="597.8" y="823.3" font-size="9.4" text-anchor="start" fill="#111">si-SCR</text>
<polygon points="584.7,843.9 589.2,835.3 593.7,843.9" fill="#f07070" stroke="#553333" stroke-width="0.8"/>
<text x="597.8" y="842.9" font-size="9.4" text-anchor="start" fill="#111">si-STING</text>
</svg></body></html>
